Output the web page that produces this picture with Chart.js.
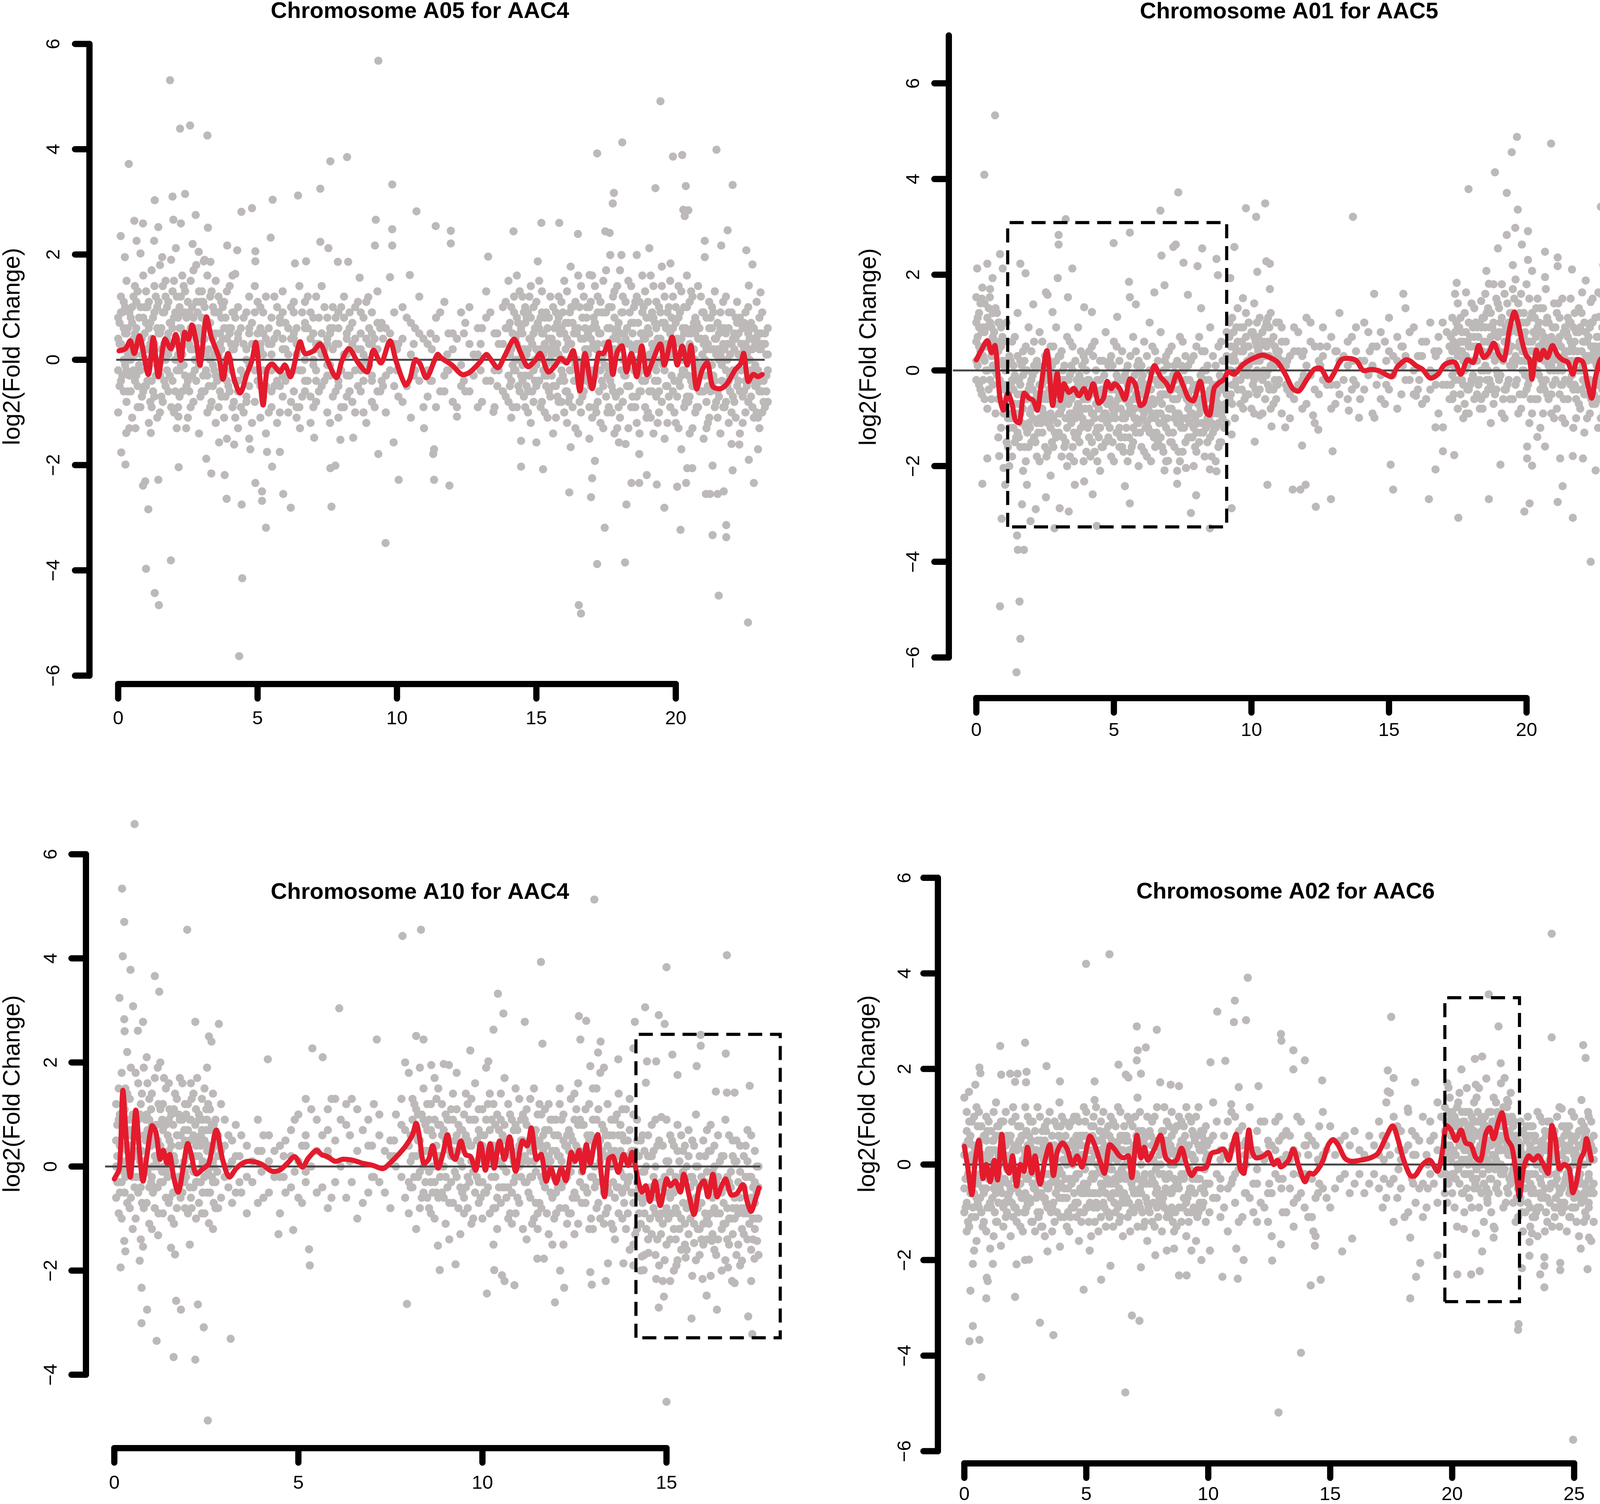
<!DOCTYPE html>
<html><head><meta charset="utf-8">
<script src="https://cdn.jsdelivr.net/npm/chart.js@4.4.1/dist/chart.umd.min.js"></script>
<style>
html,body{margin:0;padding:0;background:#fff;}
#wrap{position:relative;width:4166px;height:3850px;background:#fff;overflow:hidden;}
.pc{position:absolute;}
</style></head><body><div id="wrap">
<div class="pc" style="left:0;top:0;width:2083px;height:1925px"><canvas id="c1"></canvas></div>
<div class="pc" style="left:2083px;top:0;width:2083px;height:1925px"><canvas id="c2"></canvas></div>
<div class="pc" style="left:0;top:1925px;width:2083px;height:1925px"><canvas id="c3"></canvas></div>
<div class="pc" style="left:2083px;top:1925px;width:2083px;height:1925px"><canvas id="c4"></canvas></div>
</div>
<script>
// ---------- titles & ticks ----------
const titles = ["Chromosome A05 for AAC4","Chromosome A01 for AAC5","Chromosome A10 for AAC4","Chromosome A02 for AAC6"];
const yTitle = "log2(Fold Change)";
const p1XTicks=[0,5,10,15,20], p1YTicks=[-6,-4,-2,0,2,4,6];
const p2XTicks=[0,5,10,15,20], p2YTicks=[-6,-4,-2,0,2,4,6];
const p3XTicks=[0,5,10,15], p3YTicks=[-4,-2,0,2,4,6];
const p4XTicks=[0,5,10,15,20,25], p4YTicks=[-6,-4,-2,0,2,4,6];

// ---------- panel 1: A05 / AAC4 ----------
const p1Band=[[0.1,0.9,-0.4,0.3,1.2],[0.3,-0.8,0.5,1.5,-0.2],[0.5,0.7,-1.1,0.1,1.0],[0.7,-0.5,1.3,0.4,-0.9],[0.9,0.2,1.6,-0.6,0.8],[1.1,-1.2,0.6,1.1,-0.1],[1.3,0.9,-0.7,1.4,0.3],[1.5,-0.3,1.8,0.5,-1.0],[1.7,1.2,-0.5,0.0,1.5],[1.9,-0.9,0.7,1.9,0.3],[2.1,0.4,-1.3,1.2,-0.2],[2.3,1.6,0.1,-0.6,0.9],[2.5,-0.4,1.1,0.5,-1.1],[2.7,0.8,1.7,-0.8,0.2],[2.9,-0.1,1.3,0.6,-1.4],[3.1,1.0,-0.6,1.9,0.4],[3.3,-0.9,0.7,1.2,0.0],[3.5,0.5,-1.2,1.5,-0.3],[3.7,1.1,-0.7,0.2,0.8],[3.9,-1.5,0.4,1.3,-0.4],[4.1,0.9,-0.9,0.2,1.6],[4.3,-0.6,0.5,-1.3,1.0],[4.5,0.3,-1.0,0.8,-0.3],[4.7,1.2,-0.5,0.5,-1.5],[4.9,-0.2,0.9,-0.8,1.4],[5.1,0.6,-1.1,0.2,1.0],[5.3,-0.5,1.2,-1.4,0.4],[5.5,0.8,-0.2,-0.9,0.3],[5.7,-1.2,0.5,1.0,-0.4],[5.9,0.2,0.9,-0.7,1.3],[6.1,-0.3,0.6,-1.0,0.1],[6.3,1.1,-0.6,0.4,0.9],[6.5,-0.9,0.2,1.4,-0.2],[6.7,0.7,-0.4,0.0,1.1],[6.9,-0.7,0.9,0.4,-1.2],[7.1,0.3,-0.2,1.2,-0.8],[7.3,1.4,0.5,-0.5,0.1],[7.5,-1.0,0.8,-0.3,0.4],[7.7,0.6,-0.7,1.0,0.2],[7.9,-0.4,0.3,0.9,-1.1],[8.1,0.8,-0.9,0.1,1.2],[8.3,-0.3,0.6,-0.6,0.9],[8.5,1.0,-0.2,0.4,-1.0],[8.7,-0.6,0.9,0.2,-0.2],[8.9,0.4,-1.2,1.1,0.0],[9.1,-0.8,0.5,0.9,-0.4],[9.3,0.2,1.3,-0.6,0.7],[9.6,-0.3,0.6,-1.0],[9.9,0.9,-0.5,0.3],[10.2,-0.8,0.4,1.0],[10.5,0.1,-1.1,0.7],[10.8,1.2,-0.4,0.5],[11.1,-0.7,0.3,-0.2],[11.4,0.8,-0.9,0.4],[11.7,-0.3,1.1,-0.6],[12.0,0.5,-0.8,0.2],[12.3,-0.5,0.9,-0.1],[12.6,0.3,-0.6,1.0],[12.9,-0.9,0.6,0.1],[13.2,0.8,-0.4,1.3],[13.5,-0.2,0.5,-0.9],[13.8,1.0,-0.6,0.3],[14.0,0.6,1.5,-0.3,-0.8],[14.2,-0.2,0.9,1.2,0.3],[14.4,1.3,-0.6,0.5,0.0],[14.6,-0.9,0.7,1.0,-0.3],[14.8,0.4,-1.2,1.4,0.8],[15.0,-0.5,0.2,1.1,-0.1],[15.2,0.9,-0.8,0.5,1.3],[15.4,-0.3,0.6,-1.1,0.2],[15.6,1.0,-0.5,0.3,-1.4],[15.8,-0.8,0.8,0.1,1.2],[16.0,0.5,-1.0,1.5,-0.4],[16.2,-0.2,0.9,-0.7,0.3],[16.4,1.1,-1.3,0.6,-0.1],[16.6,-0.6,0.4,1.4,-1.0],[16.8,0.8,-0.4,1.0,0.2],[17.0,-1.1,0.6,1.6,-0.2],[17.2,0.3,-0.8,1.2,0.9],[17.4,-0.5,1.5,0.1,-1.3],[17.6,1.0,-0.2,0.6,-0.9],[17.8,-1.4,0.8,1.3,0.2],[18.0,0.5,-0.6,1.7,-1.1],[18.2,-0.3,1.1,0.4,-1.6],[18.4,1.4,-0.9,0.7,0.0],[18.6,-0.7,0.3,1.2,-1.2],[18.8,0.9,-0.4,1.6,0.5],[19.0,-1.0,0.6,1.1,-0.3],[19.2,0.2,-1.4,1.4,0.8],[19.4,-0.6,1.0,0.3,-1.0],[19.6,1.2,-0.2,0.7,-1.5],[19.8,-0.9,0.5,1.5,0.1],[20.0,0.7,-1.2,1.0,-0.4],[20.2,-0.3,1.3,0.4,-1.7],[20.4,1.0,-0.7,0.2,1.6],[20.6,-1.3,0.6,1.2,-0.5],[20.8,0.4,-0.9,1.4,-0.1],[21.0,-0.6,0.9,-1.5,0.3],[21.2,1.1,-0.3,0.6,-1.1],[21.4,-0.9,0.4,1.3,-0.4],[21.6,0.6,-1.4,0.9,0.1],[21.8,-0.2,1.2,-0.8,0.5],[22.0,0.9,-1.0,0.3,-1.6],[22.2,-0.5,0.7,1.1,-0.2],[22.4,0.3,-1.2,0.6,-0.7],[22.6,-0.8,0.5,1.0,0.0],[22.8,0.6,-0.4,-1.1,0.4],[23.0,-0.6,0.2,0.8,-1.3],[23.2,0.5,-0.9,-0.3,0.3]];
const p1Band2=[[0.0,0.4,-0.2,0.8,-1.0],[0.2,1.1,0.0,-0.6,0.6],[0.4,-0.3,0.9,0.2,-1.3],[0.6,0.5,1.4,-0.4,0.1],[0.8,-0.9,0.3,1.0,-0.2],[1.0,0.7,-0.5,1.3,0.0],[1.2,-0.4,0.4,1.7,-0.9],[1.4,1.0,-0.1,0.6,-1.1],[1.6,0.2,0.9,-0.8,1.4],[1.8,-0.6,0.5,1.1,0.1],[2.0,0.8,-1.0,0.3,1.5],[2.2,-0.2,0.6,1.0,-0.7],[2.4,0.4,1.3,-0.3,0.9],[2.6,-0.9,0.2,1.5,0.6],[2.8,1.1,0.4,-0.4,1.8],[3.0,-0.6,0.8,0.2,1.3],[3.2,0.6,-0.3,1.6,-1.0],[3.4,-0.1,1.0,0.4,-0.5],[3.6,0.9,-0.9,0.1,1.2],[3.8,-0.3,0.6,1.1,-1.1],[4.0,0.5,-0.6,1.4,0.0],[4.2,-1.1,0.3,0.8,-0.4],[4.4,0.6,-0.2,-0.9],[4.6,-0.7,0.9,0.2],[4.8,0.3,-1.2,0.7],[5.0,-0.4,0.5,1.1],[5.2,0.9,-0.7,0.1],[5.4,-1.0,0.3,0.6],[5.6,0.4,-0.5,1.2],[5.8,-0.2,0.8,-1.0],[6.0,0.7,-0.4,0.2],[6.2,-0.8,0.4,1.0],[6.4,0.1,-1.1,0.6],[6.6,0.9,-0.2,-0.7],[6.8,-0.4,0.6,1.2],[7.0,0.5,-0.9,0.0],[7.2,-0.6,0.8,0.3],[7.4,0.2,-0.4,1.0],[7.6,-1.2,0.5,-0.1],[7.8,0.8,-0.6,0.3],[8.0,-0.2,1.0,-0.9],[8.2,0.5,-0.3,0.1],[8.4,-0.8,0.7,0.3],[8.6,0.2,-0.5,1.1],[8.8,-0.4,0.8,-1.0],[9.0,0.6,-0.1,0.3],[9.2,-0.9,0.4],[9.45,0.7,-0.4],[9.75,-0.2,0.5],[10.05,0.3,-0.7],[10.35,-0.5,0.8],[10.65,0.6,-0.2],[10.95,-0.9,0.4],[11.25,0.2,-0.4],[11.55,0.9,-0.6],[11.85,-0.2,0.5],[12.15,0.4,-0.9],[12.45,-0.6,0.7],[12.75,0.1,-0.3],[13.05,0.6,-0.8],[13.35,-0.4,0.9],[13.65,0.3,-0.2],[13.9,-0.7,0.6,1.1],[14.1,0.2,-0.4,1.0,-1.1],[14.3,0.8,-0.9,0.3,1.6],[14.5,-0.4,0.5,1.2,-0.1],[14.7,0.9,-0.6,0.2,-1.0],[14.9,-0.2,1.0,0.5,-0.8],[15.1,0.6,-0.4,1.5,0.1],[15.3,-1.0,0.3,0.8,-0.3],[15.5,0.4,-0.7,1.2,0.0],[15.7,-0.5,0.9,0.2,-1.1],[15.9,1.1,-0.2,0.6,-0.8],[16.1,-0.6,0.4,1.3,-1.2],[16.3,0.7,-0.9,0.1,1.0],[16.5,-0.2,0.6,-1.4,1.6],[16.7,0.4,-0.6,1.2,-0.3],[16.9,-0.9,1.0,0.2,-1.5],[17.1,0.7,-0.3,1.4,-0.9],[17.3,-0.2,0.5,-1.2,1.1],[17.5,0.9,-0.7,0.3,1.7],[17.7,-0.5,0.2,1.0,-1.0],[17.9,0.6,-1.3,0.4,1.4],[18.1,-0.8,0.9,0.0,1.2],[18.3,0.3,-0.5,1.5,-1.3],[18.5,-0.2,0.7,-0.9,1.0],[18.7,1.1,-0.6,0.3,-1.4],[18.9,-0.4,0.4,1.3,-0.9],[19.1,0.8,-1.1,0.1,1.6],[19.3,-0.7,0.6,1.1,-0.2],[19.5,0.3,-0.8,1.4,0.7],[19.7,-1.2,0.1,0.9,-0.5],[19.9,0.6,1.2,-0.6,0.2],[20.1,-0.4,0.8,-1.3,1.4],[20.3,1.0,-0.2,0.5,-0.9],[20.5,-0.7,0.3,1.1,-1.4],[20.7,0.5,-1.0,0.8,0.0],[20.9,-0.3,1.2,-0.6,0.4],[21.1,0.8,-0.8,0.2,-1.3],[21.3,-0.5,0.6,1.0,-0.1],[21.5,0.2,-1.1,0.7,-0.6],[21.7,-0.9,0.3,1.1,0.0],[21.9,0.6,-0.4,-1.2,0.9],[22.1,-0.3,0.5,-0.8,0.2],[22.3,0.8,-0.6,0.1,-1.4],[22.5,-0.4,0.9,-1.0,0.3],[22.7,0.2,-0.7,0.7,-0.2],[22.9,-1.0,0.4,-0.5,1.1],[23.1,0.3,-0.6,0.9,-1.0],[23.3,-0.2,0.6,-0.8,0.1]];
const p1Band3=[[0.05,0.3,-0.5,0.7],[0.25,-0.1,0.5,1.0],[0.45,0.8,0.0,-0.6],[0.65,-0.3,0.6,1.1],[0.85,0.4,-0.7,0.1],[1.05,1.0,0.2,-0.4],[1.25,-0.6,0.1,0.8],[1.45,0.5,1.1,-0.2],[1.65,-0.4,0.3,0.9],[1.85,0.7,-0.3,0.2],[2.05,0.0,0.9,-0.6],[2.25,0.6,-0.1,1.2],[2.45,-0.5,0.3,0.8],[2.65,0.2,1.0,-0.3],[2.85,0.9,0.0,0.5],[3.05,-0.3,0.4,1.1],[3.25,0.7,-0.5,0.2],[3.45,0.1,0.9,-0.2],[3.65,-0.6,0.5,0.3],[3.85,0.8,0.0,-0.7],[4.05,-0.2,0.6,0.3],[4.3,0.4,-0.4],[4.7,-0.1,0.6],[5.1,0.3,-0.5],[5.5,-0.6,0.1],[5.9,0.4,-0.3],[6.3,-0.2,0.5],[6.7,0.6,-0.6],[7.1,-0.4,0.2],[7.5,0.3,-0.1],[7.9,-0.5,0.6],[8.3,0.2,-0.6],[8.7,0.5,-0.1],[9.1,-0.3,0.3],[9.5,0.4,-0.5],[10.0,-0.2,0.2],[10.6,0.3,-0.3],[11.2,-0.4,0.5],[11.8,0.1,-0.2],[12.4,0.5,-0.4],[13.0,-0.2,0.3],[13.6,0.5,-0.5],[14.05,0.1,-0.5,0.7],[14.25,-0.2,0.4,0.0],[14.45,0.6,-0.3,0.2],[14.65,-0.5,0.1,0.8],[14.85,0.3,-0.1,-0.6],[15.05,0.7,0.0,-0.4],[15.25,-0.2,0.5,0.1],[15.45,0.4,-0.6,0.8],[15.65,-0.1,0.6,0.2],[15.85,0.5,-0.4,0.0],[16.05,-0.6,0.2,0.7],[16.25,0.3,-0.2,1.0],[16.45,-0.4,0.5,0.0],[16.65,0.8,-0.1,-0.7],[16.85,0.1,0.5,-0.4],[17.05,-0.3,0.8,0.3],[17.25,0.5,-0.6,0.0],[17.45,-0.1,0.3,0.9],[17.65,0.6,-0.4,0.2],[17.85,-0.7,0.1,0.5],[18.05,0.3,-0.2,0.9],[18.25,-0.5,0.6,0.0],[18.45,0.2,-0.7,0.5],[18.65,0.7,0.0,-0.3],[18.85,-0.2,0.4,1.0],[19.05,0.5,-0.6,0.1],[19.25,-0.1,0.7,-0.4],[19.45,0.4,0.0,0.9],[19.65,-0.5,0.3,0.6],[19.85,0.2,-0.3,0.8],[20.05,-0.7,0.4,0.1],[20.25,0.6,-0.2,0.0],[20.45,-0.3,0.5,-0.8],[20.65,0.2,-0.5,0.7],[20.85,-0.1,0.6,-0.6],[21.05,0.4,-0.3,0.0],[21.25,-0.6,0.2,0.8],[21.45,0.1,-0.8,0.4],[21.65,-0.4,0.6,-0.1],[21.85,0.3,-0.5,0.0],[22.05,-0.2,0.4,-0.7],[22.25,0.5,-0.4,0.1],[22.45,-0.6,0.2,0.7],[22.65,0.0,-0.3,0.4],[22.85,-0.5,0.3,-0.1],[23.05,0.2,-0.4,0.5],[23.25,-0.3,0.1,-0.6]];
const p1Band4=[[0.15,0.2,-0.3,0.9],[0.35,0.6,-0.6,0.1],[0.55,-0.2,0.4,1.2],[0.75,0.8,-0.1,0.3],[0.95,-0.5,0.5,1.0],[1.15,0.3,-0.8,0.7],[1.35,1.2,0.0,-0.3],[1.55,-0.7,0.6,0.2],[1.75,0.4,-0.2,1.0],[1.95,-0.4,1.3,0.6],[2.15,0.8,0.1,-0.9],[2.35,-0.1,0.5,1.4],[2.55,0.9,-0.6,0.3],[2.75,0.0,0.6,-0.2],[2.95,0.4,1.1,-0.7],[3.15,-0.2,0.7,0.1],[3.35,0.5,-0.8,1.3],[3.55,0.9,0.2,-0.4],[3.75,-0.1,0.4,1.0],[3.95,0.6,-0.5,0.0],[4.15,-0.8,0.2,0.9],[4.6,0.0,-0.8],[5.2,0.5,-0.2],[5.8,-0.5,0.7],[6.4,0.3,-0.9],[7.0,-0.1,0.8],[7.6,0.6,-0.3],[8.2,-0.7,0.4],[8.8,0.1,-0.4],[9.4,-0.6,0.6],[14.15,0.5,-0.1,-0.9],[14.35,0.0,0.7,-0.5],[14.55,-0.7,0.2,0.9],[14.75,0.4,-0.3,1.2],[14.95,-0.4,0.6,0.0],[15.15,0.2,-0.9,0.8],[15.35,0.9,-0.1,-0.5],[15.55,-0.3,0.4,0.1],[15.75,0.7,-0.7,0.3],[15.95,0.0,0.9,-0.3],[16.15,-0.8,0.3,0.7],[16.35,0.5,-0.4,0.0],[16.55,-0.1,1.0,-0.8],[16.75,0.6,-0.2,0.2],[16.95,-0.5,0.4,1.1],[17.15,0.2,-1.0,0.6],[17.35,0.9,0.0,-0.4],[17.55,-0.3,0.6,-1.0],[17.75,0.4,-0.6,1.2],[17.95,-0.9,0.2,0.7],[18.15,0.5,-0.3,0.0],[18.35,-0.5,0.9,0.3],[18.55,0.2,-0.9,1.1],[18.75,-0.2,0.5,-0.6],[18.95,0.8,0.0,-1.1],[19.15,-0.6,0.3,0.9],[19.35,0.4,-0.4,-1.2],[19.55,-0.1,0.7,0.2],[19.75,0.6,-0.7,1.0],[19.95,-0.4,0.1,-1.0],[20.15,0.3,0.9,-0.5],[20.35,-0.8,0.2,0.6],[20.55,0.5,-0.4,1.3],[20.75,-0.2,0.7,-0.9],[20.95,0.9,-0.6,0.1],[21.15,-0.5,0.3,-1.2],[21.35,0.2,-0.3,0.9],[21.55,-0.7,0.5,0.0],[21.75,0.6,-0.9,0.2],[21.95,-0.3,0.1,-0.6],[22.15,0.4,-1.1,0.8],[22.35,-0.6,0.3,-0.2],[22.55,0.1,-0.5,0.6],[22.75,-0.9,0.2,-0.4],[22.95,0.5,-0.2,-1.1],[23.15,-0.4,0.3,-0.8]];
const p1Out=[[1.86,5.31],[9.33,5.68],[19.45,4.91],[2.22,4.39],[2.58,4.45],[3.2,4.26],[0.38,3.72],[7.61,3.77],[8.21,3.85],[9.83,3.33],[17.18,3.92],[18.08,4.13],[19.9,3.86],[20.23,3.89],[21.46,3.99],[22.04,3.32],[20.36,3.3],[19.27,3.26],[17.78,3.17],[17.74,2.97],[7.25,3.25],[1.95,3.1],[2.4,3.15],[1.31,3.03],[6.45,3.12],[5.54,3.04],[4.8,2.88],[4.42,2.81],[2.78,2.75],[3.22,2.51],[10.7,2.82],[11.39,2.54],[11.93,2.45],[11.93,2.21],[9.24,2.66],[9.21,2.17],[9.83,2.48],[9.83,2.17],[14.18,2.44],[15.18,2.6],[15.82,2.6],[16.49,2.39],[17.63,2.41],[20.27,2.85],[20.45,2.84],[20.32,2.73],[21.04,2.26],[21.86,2.46],[21.63,2.17],[22.53,2.08],[22.75,1.81],[23.04,1.28],[22.62,1.41],[0.09,2.35],[0.24,1.95],[0.58,2.64],[0.89,2.59],[0.66,2.26],[0.8,2.02],[1.29,2.26],[1.44,2.52],[1.58,1.95],[1.98,2.66],[2.25,2.59],[2.07,2.12],[2.67,2.2],[2.89,2.05],[3.07,1.87],[3.31,1.86],[3.91,2.17],[4.2,1.63],[4.27,2.08],[4.92,2.06],[4.92,1.87],[5.47,2.32],[6.34,1.83],[6.74,1.87],[7.88,1.86],[8.25,1.86],[7.54,2.12],[7.25,2.24],[8.66,1.56],[8.97,1.19],[9.75,1.57],[10.46,1.61],[13.27,1.96],[15.05,1.87],[16.23,1.77],[16.91,1.61],[17.47,2.44],[17.65,1.99],[18.05,1.99],[19.05,2.12],[18.6,1.99],[19.5,1.77],[19.81,1.83],[21.04,1.95],[4.34,-5.63],[4.45,-4.15],[1.89,-3.81],[1.0,-3.97],[1.31,-4.43],[1.46,-4.66],[9.59,-3.48],[17.18,-3.88],[18.18,-3.85],[16.52,-4.66],[16.6,-4.82],[21.54,-4.48],[22.59,-4.99],[17.45,-3.19],[20.17,-3.23],[21.32,-3.33],[21.81,-3.14],[21.81,-3.37],[5.3,-3.19],[6.19,-2.81],[7.65,-2.79],[1.08,-2.84],[0.89,-2.39],[0.97,-2.31],[1.44,-2.28],[0.26,-1.99],[0.11,-1.76],[2.17,-2.04],[3.89,-2.64],[3.82,-2.19],[4.43,-2.75],[4.92,-2.34],[5.16,-2.68],[5.16,-2.5],[5.92,-2.55],[5.52,-2.03],[7.61,-2.06],[7.79,-2.01],[10.06,-2.28],[11.33,-2.28],[11.88,-2.39],[11.3,-1.79],[14.45,-2.03],[15.24,-2.08],[16.18,-2.52],[16.96,-2.61],[17.0,-2.25],[17.1,-1.92],[18.23,-2.75],[18.41,-2.34],[18.69,-2.34],[18.96,-2.19],[19.32,-2.37],[19.59,-2.81],[20.05,-2.41],[20.37,-2.34],[20.59,-2.06],[21.08,-2.55],[21.23,-2.55],[21.5,-2.55],[21.72,-2.5],[22.04,-2.1],[22.95,-1.7],[22.8,-2.34],[22.62,-1.9],[22.28,-1.61],[21.32,-2.01],[20.41,-2.06],[18.69,-1.79],[17.96,-1.57],[16.23,-1.66],[15.0,-1.57],[14.45,-1.54],[13.46,-0.99],[12.15,-1.08],[10.97,-1.3],[11.33,-1.7],[9.88,-1.57],[9.33,-1.79],[8.43,-1.48],[7.97,-1.52],[7.03,-1.48],[6.52,-1.3],[5.8,-1.75],[5.34,-1.75],[4.74,-1.7],[4.16,-1.61],[3.62,-1.57],[3.34,-2.16],[3.16,-1.88],[2.44,-1.3],[2.16,-1.08],[1.17,-1.39],[0.62,-1.3],[0.29,-1.39]];
const p1Red=[[0.03,0.17],[0.26,0.21],[0.44,0.36],[0.58,0.12],[0.77,0.45],[1.08,-0.28],[1.26,0.42],[1.44,-0.32],[1.67,0.39],[1.89,0.21],[2.07,0.48],[2.25,-0.01],[2.38,0.52],[2.53,0.39],[2.65,0.66],[2.8,0.34],[2.94,-0.1],[3.16,0.81],[3.34,0.43],[3.62,0.03],[3.76,-0.37],[3.94,0.12],[4.16,-0.37],[4.38,-0.63],[4.61,-0.28],[4.8,-0.01],[4.94,0.33],[5.07,-0.28],[5.2,-0.86],[5.34,-0.19],[5.52,-0.08],[5.8,-0.23],[5.98,-0.1],[6.19,-0.32],[6.52,0.34],[6.7,0.12],[7.01,0.17],[7.25,0.3],[7.52,-0.03],[7.83,-0.34],[8.03,-0.01],[8.28,0.21],[8.61,-0.06],[8.94,-0.23],[9.15,0.18],[9.43,-0.06],[9.75,0.36],[9.97,-0.03],[10.3,-0.48],[10.46,-0.37],[10.65,0.0],[10.82,-0.07],[11.06,-0.34],[11.45,0.1],[11.6,0.03],[11.97,-0.1],[12.33,-0.28],[12.6,-0.24],[12.97,-0.05],[13.2,0.1],[13.33,0.03],[13.62,-0.15],[13.87,0.08],[14.2,0.39],[14.42,0.15],[14.69,-0.13],[14.96,-0.01],[15.14,0.12],[15.42,-0.23],[15.69,-0.1],[15.87,0.03],[16.09,-0.06],[16.33,0.17],[16.56,-0.59],[16.74,0.12],[17.0,-0.55],[17.23,0.12],[17.41,0.12],[17.6,0.34],[17.74,-0.28],[17.9,0.15],[18.08,0.26],[18.23,-0.23],[18.41,0.12],[18.6,-0.32],[18.78,0.26],[18.96,-0.28],[19.14,-0.06],[19.45,0.3],[19.59,-0.1],[19.87,0.43],[20.05,-0.1],[20.23,0.26],[20.41,-0.1],[20.55,0.27],[20.74,-0.55],[20.95,-0.19],[21.14,-0.06],[21.32,-0.5],[21.59,-0.55],[21.83,-0.46],[22.13,-0.19],[22.32,-0.08],[22.44,0.12],[22.59,-0.41],[22.77,-0.28],[22.95,-0.32],[23.1,-0.28]];
const p1Zero=[-0.07,23.19];

// ---------- panel 2: A01 / AAC5 ----------
const p2Band=[[0.1,0.5,-0.3,1.2,0.9],[0.3,1.4,0.2,-0.6,0.8],[0.5,-0.2,1.0,0.6,1.7],[0.7,0.3,-0.9,1.3,0.0],[0.9,0.9,-0.4,-1.2,0.5],[1.1,-1.5,0.2,-0.6,1.0],[1.3,-0.9,0.6,-1.8,-0.2],[1.5,0.3,-1.3,-0.5,1.2],[1.7,-2.1,-0.8,0.4,-0.1],[1.9,-1.1,0.9,-0.4,-1.6],[2.1,0.1,-1.4,-0.7,0.6],[2.3,-1.9,-0.3,0.8,-1.0],[2.5,-0.6,-1.6,0.3,-0.1],[2.7,-1.2,0.5,-0.9,-2.2],[2.9,0.2,-0.5,-1.4,0.9],[3.1,-1.8,-0.8,0.4,-0.2],[3.3,-0.4,-1.2,0.7,-2.0],[3.5,0.0,-0.9,-1.6,0.5],[3.7,-1.3,-0.3,0.9,-0.7],[3.9,-0.6,-1.9,0.3,-1.1],[4.1,0.4,-1.4,-0.2,-0.8],[4.3,-1.0,0.6,-1.7,-0.4],[4.5,-0.2,-1.2,0.2,-2.1],[4.7,-1.5,-0.6,0.8,-0.9],[4.9,0.3,-1.0,-0.4,-1.8],[5.1,-0.8,0.5,-1.3,-0.1],[5.3,-1.6,-0.5,0.4,-1.0],[5.5,0.1,-0.9,-1.9,-0.3],[5.7,-1.2,0.7,-0.6,-1.5],[5.9,-0.3,-1.1,0.2,-2.0],[6.1,-1.7,-0.4,0.6,-0.9],[6.3,0.0,-1.3,-0.7,1.0],[6.5,-1.0,0.4,-1.6,-0.2],[6.7,-0.5,-1.4,0.8,-0.9],[6.9,-1.9,-0.2,0.3,-1.2],[7.1,0.5,-0.8,-1.5,-0.4],[7.3,-1.1,0.2,-0.6,-2.1],[7.5,-0.3,-1.7,0.6,-1.0],[7.7,-1.4,-0.5,0.1,-0.8],[7.9,0.3,-1.2,-2.0,-0.3],[8.1,-0.9,0.7,-1.5,-0.6],[8.3,-1.8,-0.2,0.4,-1.1],[8.5,-0.4,-1.4,0.9,-0.8],[8.7,-1.2,0.1,-0.6,-1.9],[8.9,0.6,-0.9,-1.5,-0.2],[9.1,-0.5,0.3,-1.1,0.8],[9.3,0.2,-0.7,1.1,-0.3],[9.5,0.6,-0.4,0.0,1.3],[9.7,-0.8,0.4,0.9,-0.1],[9.9,0.1,1.0,-0.5,0.5],[10.1,0.7,-0.2,1.4,-0.9],[10.3,-0.4,0.5,0.2,1.1],[10.5,0.9,-0.6,0.3,-0.1],[10.7,0.1,1.2,-0.8,0.6],[10.9,-0.3,0.4,1.0,-0.6],[11.1,0.6,-0.9,0.2,0.9],[11.4,-0.5,0.3,-1.0],[11.7,0.8,-0.3,0.4],[12.0,-0.7,0.1,1.1],[12.3,0.5,-0.4,-1.1],[12.6,-0.2,0.9,0.3],[12.9,0.7,-0.8,-0.3],[13.2,0.2,1.2,-0.5],[13.5,-0.6,0.6,0.1],[13.8,0.9,-0.3,0.4],[14.1,-0.4,0.2,1.0],[14.4,0.5,-0.9,0.1],[14.7,-0.1,0.8,-0.6],[15.0,0.4,-0.4,1.1],[15.3,-0.8,0.7,0.2],[15.6,0.3,-0.2,1.3],[15.9,-0.5,0.9,0.0],[16.2,0.6,-0.7,0.3],[16.5,0.0,1.0,-0.4],[16.8,-0.9,0.4,0.7],[17.1,0.8,-0.3,0.1],[17.3,-0.6,1.1,0.4,-0.1],[17.5,0.3,-0.8,0.9,1.4],[17.7,-0.3,0.6,-1.0,0.2],[17.9,1.0,-0.4,0.5,-0.9],[18.1,0.2,1.3,-0.6,0.7],[18.3,-0.8,0.4,1.0,-0.2],[18.5,0.9,-0.5,1.6,0.1],[18.7,-0.3,0.7,-1.1,1.2],[18.9,0.5,1.5,-0.4,0.0],[19.1,-0.9,1.1,0.3,1.8],[19.3,0.6,-0.3,1.4,0.9],[19.5,-0.6,1.7,0.2,2.2],[19.7,1.0,-0.9,0.5,1.4],[19.9,0.0,1.2,-0.5,0.7],[20.1,-1.1,0.6,1.5,-0.2],[20.3,0.8,-0.6,0.2,1.1],[20.5,-0.4,1.3,0.5,-1.2],[20.7,0.4,-0.2,1.0,1.7],[20.9,-0.9,0.7,0.1,-0.5],[21.1,1.2,0.3,-0.8,0.6],[21.3,-0.3,1.5,0.0,-1.0],[21.5,0.7,-0.6,1.1,0.2],[21.7,-1.2,0.4,0.9,-0.4],[21.9,0.2,1.3,-0.7,0.8],[22.1,-0.5,0.6,-1.3,1.0],[22.3,0.9,-0.2,0.3,-0.9],[22.5,-0.7,1.1,0.5,-0.3],[22.7,0.4,-1.0,1.6,0.1],[22.9,-0.2,0.8,-0.6,1.2],[23.1,0.6,-0.8,0.2,-1.4],[23.3,-0.4,0.9,0.0,-1.0]];
const p2Band2=[[0.0,0.2,1.0,-0.2,0.6],[0.2,0.8,-0.5,1.5,0.3],[0.4,0.0,1.1,0.5,-0.8],[0.6,1.2,-0.3,0.7,0.1],[0.8,-0.6,0.4,1.0,-1.4],[1.0,0.1,-0.9,0.6,-0.3],[1.2,-1.2,-0.4,0.3,-2.0],[1.4,-0.7,0.7,-1.5,-0.1],[1.6,-1.6,-0.3,0.2,-0.9],[1.8,0.5,-1.2,-0.5,-1.9],[2.0,-0.8,-0.2,-1.5,0.4],[2.2,-1.1,0.2,-0.5,-1.8],[2.4,-0.3,-1.3,0.6,-0.8],[2.6,-1.7,-0.6,0.1,-1.1],[2.8,-0.2,-1.0,0.5,-1.6],[3.0,-1.3,-0.4,0.3,-0.9],[3.2,0.1,-1.6,-0.7,-0.2],[3.4,-0.9,-0.1,-1.8,0.6],[3.6,-1.4,-0.5,0.2,-1.0],[3.8,-0.2,-1.2,-0.8,0.4],[4.0,-1.7,-0.6,0.0,-1.1],[4.2,-0.4,-1.5,0.5,-0.9],[4.4,-1.2,-0.2,-0.7,-1.9],[4.6,0.2,-1.0,-1.6,-0.4],[4.8,-0.7,-1.4,0.1,-1.0],[5.0,-1.9,-0.3,-0.9,0.6],[5.2,-0.5,-1.2,0.2,-1.6],[5.4,-1.0,-0.1,-1.4,-0.6],[5.6,0.3,-0.8,-1.7,-0.3],[5.8,-1.3,-0.5,0.4,-1.0],[6.0,-0.2,-1.6,-0.8,0.1],[6.2,-1.1,0.3,-0.4,-1.8],[6.4,-0.6,-1.3,0.5,-0.9],[6.6,-1.5,-0.3,-0.9,0.2],[6.8,0.0,-1.1,-1.7,-0.5],[7.0,-0.8,0.4,-1.3,-0.2],[7.2,-1.6,-0.6,0.1,-1.0],[7.4,-0.4,-1.1,0.7,-1.9],[7.6,-1.0,-0.2,-1.5,0.3],[7.8,-0.6,-1.4,0.2,-0.9],[8.0,-1.3,-0.4,0.5,-1.7],[8.2,-0.2,-1.1,-0.7,0.4],[8.4,-1.5,-0.5,0.1,-1.0],[8.6,0.3,-0.9,-1.3,-0.3],[8.8,-0.7,-1.6,0.5,-1.1],[9.0,-1.2,-0.4,0.2,-0.8],[9.2,0.7,-0.6,0.0,1.0],[9.4,-0.3,0.5,-1.0,0.2],[9.6,0.9,-0.2,0.4,-0.7],[9.8,-0.5,0.7,0.1,1.2],[10.0,0.3,-0.8,0.8,-0.1],[10.2,1.0,0.0,-0.5,0.5],[10.4,-0.2,0.8,-0.9,0.3],[10.6,0.6,-0.3,1.1,0.0],[10.8,-0.7,0.2,0.7,-0.4],[11.0,0.4,1.0,-0.2],[11.25,-0.3,0.6,0.1],[11.55,0.4,-0.6,0.9],[11.85,-0.2,0.3,-0.8],[12.15,0.6,-0.1,1.0],[12.45,-0.5,0.2],[12.75,0.5,-0.3],[13.05,-0.7,0.4],[13.35,0.3,-0.2],[13.65,-0.4,0.7],[13.95,0.2,-0.6],[14.25,0.8,-0.1],[14.55,-0.3,0.5],[14.85,0.6,-0.7],[15.15,-0.1,0.3],[15.45,0.5,-0.5],[15.75,-0.2,0.8],[16.05,0.3,-0.4],[16.35,-0.6,0.6],[16.65,0.4,-0.1],[16.95,-0.3,1.0],[17.2,0.5,-0.6,0.2],[17.4,-0.2,0.8,1.6],[17.6,0.6,-0.5,1.1],[17.8,-0.9,0.3,0.8],[18.0,0.5,-0.2,1.4],[18.2,-0.5,0.9,0.2],[18.4,1.1,-0.8,0.4],[18.6,0.0,0.6,-0.4,1.3],[18.8,-0.7,1.0,0.3,1.8],[19.0,0.8,-0.2,1.3,0.4],[19.2,-0.4,0.6,1.6,-1.0],[19.4,1.2,0.1,-0.6,0.8],[19.6,0.3,1.9,-0.3,1.1],[19.8,-0.8,0.6,1.6,0.2],[20.0,1.0,-0.4,0.4,1.8],[20.2,0.2,-0.9,1.2,0.6],[20.4,-0.6,0.9,0.0,1.5],[20.6,1.3,-0.3,0.6,-0.9],[20.8,0.1,1.0,-0.6,0.5],[21.0,-1.0,0.4,1.4,0.0],[21.2,0.7,-0.5,0.2,1.1],[21.4,-0.2,0.9,-1.1,0.4],[21.6,1.0,-0.3,0.6,1.5],[21.8,-0.6,0.2,-1.0,0.8],[22.0,0.4,1.2,-0.4,0.0],[22.2,-1.0,0.6,0.2,-0.5],[22.4,0.5,-0.7,1.0,1.5],[22.6,-0.3,0.3,-1.2,0.7],[22.8,0.9,-0.5,0.1,-0.9],[23.0,-0.7,0.5,1.0,-0.2],[23.2,0.2,-1.1,0.6,-0.4],[23.4,-0.6,0.4,1.1,-1.2]];
const p2Band3=[[0.05,0.7,0.1,1.1],[0.25,0.3,0.9,-0.2],[0.45,0.6,-0.4,1.3],[0.65,0.0,0.8,0.4],[0.85,-0.2,0.5,1.0],[1.05,-0.8,0.0,-0.4],[1.25,-0.3,-1.0,0.2],[1.45,-0.9,-0.2,-1.4],[1.65,-0.5,0.1,-1.1],[1.85,-1.3,-0.6,0.0],[2.05,-0.4,-1.0,-0.1],[2.25,-0.8,0.1,-1.3],[2.45,-0.2,-0.9,-0.5],[2.65,-1.1,-0.4,0.2],[2.85,-0.7,-1.3,-0.1],[3.05,-0.3,-0.9,0.3],[3.25,-1.0,-0.5,-1.5],[3.45,-0.6,0.1,-1.1],[3.65,-0.2,-0.8,-1.4],[3.85,-1.0,-0.4,0.1],[4.05,-0.6,-1.2,-0.2],[4.25,-0.9,-0.3,0.3],[4.45,-0.5,-1.4,-0.8],[4.65,-0.1,-0.9,-0.4],[4.85,-1.2,-0.6,0.2],[5.05,-0.4,-1.0,-0.7],[5.25,-0.8,-0.2,-1.4],[5.45,-0.5,-1.2,0.0],[5.65,-0.9,-0.3,-1.6],[5.85,-0.6,0.1,-1.1],[6.05,-1.0,-0.5,-0.1],[6.25,-0.4,-1.2,-0.8],[6.45,-0.7,0.0,-1.4],[6.65,-1.1,-0.2,-0.6],[6.85,-0.5,-1.0,0.2],[7.05,-0.8,-0.3,-1.5],[7.25,-0.2,-0.9,-0.6],[7.45,-1.2,-0.5,0.1],[7.65,-0.6,-1.0,-0.2],[7.85,-0.9,-0.4,-1.4],[8.05,-0.3,-1.1,-0.7],[8.25,-0.7,0.0,-1.3],[8.45,-1.0,-0.5,-0.2],[8.65,-0.4,-1.2,-0.8],[8.85,-0.8,-0.1,-1.5],[9.05,-0.3,-0.7,0.2],[9.25,0.0,0.5,-0.5],[9.45,0.4,-0.2,0.9],[9.65,0.1,0.6,-0.4],[9.85,0.5,-0.1,0.2],[10.05,0.2,0.8,-0.3],[10.25,-0.1,0.4,0.7],[10.45,0.6,0.0,0.3],[10.65,0.3,-0.4,0.9],[10.85,0.5,0.1,-0.2],[11.3,0.2,-0.4],[11.9,0.4,-0.1],[12.5,0.1,0.5],[13.1,-0.3,0.4],[13.7,0.2,-0.2],[14.3,0.4,0.0],[14.9,-0.3,0.2],[15.5,0.1,0.5],[16.1,-0.2,0.3],[16.7,0.3,-0.3],[17.25,0.2,0.7,-0.3],[17.45,0.5,0.0,1.0],[17.65,-0.2,0.4,0.8],[17.85,0.6,0.1,-0.4],[18.05,0.2,0.9,-0.1],[18.25,0.7,-0.3,0.4],[18.45,0.0,0.6,1.1],[18.65,0.4,-0.2,0.9],[18.85,0.8,0.2,-0.5],[19.05,0.3,1.0,-0.1],[19.25,0.9,0.4,-0.4],[19.45,0.5,1.2,0.1],[19.65,0.8,0.2,-0.2],[19.85,0.4,1.0,0.0],[20.05,0.6,-0.3,0.2],[20.25,0.1,0.8,0.4],[20.45,0.5,-0.1,1.0],[20.65,0.2,0.7,-0.4],[20.85,0.6,0.0,0.3],[21.05,0.3,0.9,-0.2],[21.25,0.5,-0.3,0.1],[21.45,0.2,0.8,0.4],[21.65,-0.1,0.5,0.2],[21.85,0.4,-0.4,0.0],[22.05,0.1,0.6,-0.2],[22.25,-0.3,0.3,0.7],[22.45,0.2,-0.5,0.4],[22.65,0.5,-0.1,-0.6],[22.85,0.0,0.4,-0.3],[23.05,0.3,-0.5,0.1],[23.25,-0.2,0.5,-0.7],[23.45,0.2,-0.3,0.4]];
const p2Band4=[[0.15,0.4,1.4,-0.4],[0.35,0.9,0.0,0.5],[0.55,-0.6,0.3,0.9],[0.75,0.6,-0.1,1.2],[0.95,0.2,-0.7,0.7],[1.15,-1.0,-0.5,-1.6],[1.35,-0.4,-1.2,0.1],[1.55,-1.4,-0.7,-0.2],[1.75,-0.6,-1.6,0.2],[1.95,-0.9,-0.3,-1.2],[2.15,-1.5,-0.6,0.0],[2.35,-0.3,-1.1,-0.6],[2.55,-1.0,-0.2,-1.8],[2.75,-0.5,-1.5,0.1],[2.95,-1.1,-0.7,-0.3],[3.15,-0.6,-1.4,0.0],[3.35,-1.0,-0.2,-0.7],[3.55,-0.4,-1.3,-1.9],[3.75,-0.9,-0.1,-1.5],[3.95,-0.3,-0.8,0.2],[4.15,-1.1,-0.5,-1.8],[4.35,-0.7,-1.3,0.0],[4.55,-1.0,-0.4,-1.6],[4.75,-0.3,-1.1,-0.7],[4.95,-0.8,-1.5,0.1],[5.15,-1.3,-0.6,-0.2],[5.35,-0.2,-0.9,-1.7],[5.55,-0.7,-1.4,-0.4],[5.75,-1.0,-0.1,-0.8],[5.95,-0.5,-1.3,0.0],[6.15,-1.2,-0.8,-0.3],[6.35,-0.4,-1.0,-1.9],[6.55,-0.9,-0.2,-1.3],[6.75,-0.3,-0.7,-1.6],[6.95,-1.0,-0.5,0.1],[7.15,-0.6,-1.3,-0.1],[7.35,-0.9,-0.4,-1.7],[7.55,-0.5,-1.2,0.0],[7.75,-1.1,-0.7,-0.2],[7.95,-0.4,-1.0,-1.6],[8.15,-0.8,-0.1,-1.3],[8.35,-1.2,-0.6,0.0],[8.55,-0.6,-1.1,-1.8],[8.75,-0.3,-0.9,-0.5],[8.95,-1.0,-0.4,0.2],[9.35,0.3,-0.3,0.8],[9.75,0.5,0.0,-0.6],[10.15,0.2,0.6,-0.4],[10.55,-0.1,0.5,1.0],[10.95,0.3,-0.3],[17.35,0.1,0.6,-0.5],[17.55,0.4,-0.2,0.9],[17.75,0.0,1.2,-0.7],[17.95,0.7,0.2,-0.3],[18.15,-0.2,0.5,1.0],[18.35,0.9,0.0,-0.6],[18.55,0.3,1.2,-0.2],[18.75,-0.4,0.5,0.9],[18.95,0.7,-0.1,1.4],[19.15,0.2,0.8,-0.6],[19.35,1.0,0.4,-0.2],[19.55,0.1,0.9,1.5],[19.75,0.6,-0.5,1.2],[19.95,0.2,0.8,-0.1],[20.15,1.1,0.4,-0.6],[20.35,0.0,0.7,1.3],[20.55,0.8,-0.2,0.3],[20.75,-0.5,0.5,1.1],[20.95,0.9,0.2,-0.3],[21.15,0.0,0.6,1.4],[21.35,0.8,-0.6,0.3],[21.55,0.4,1.0,-0.2],[21.75,-0.3,0.6,1.2],[21.95,0.9,0.0,-0.8],[22.15,0.3,-0.3,0.8],[22.35,-0.6,0.5,1.0],[22.55,0.7,-0.2,0.1],[22.75,-0.4,0.3,0.9],[22.95,0.5,-0.9,0.0],[23.15,-0.1,0.7,-0.5],[23.35,0.4,-0.6,0.8]];
const p2Out=[[0.68,5.33],[0.29,4.09],[0.86,-4.93],[1.57,-4.83],[1.6,-5.61],[1.46,-6.31],[1.51,-3.75],[1.73,-3.75],[1.48,-3.45],[0.92,-3.1],[7.34,3.72],[6.69,3.34],[3.25,3.16],[2.99,2.83],[2.99,2.63],[4.99,2.66],[5.58,2.88],[6.73,2.4],[7.16,2.58],[7.25,2.63],[8.21,2.55],[8.73,2.33],[8.04,2.18],[7.53,2.25],[8.78,1.99],[9.8,3.39],[10.17,3.21],[10.5,3.49],[9.38,2.58],[9.23,1.93],[10.54,2.28],[10.67,2.23],[10.21,2.06],[10.67,1.7],[9.69,1.51],[13.69,3.21],[14.46,1.6],[15.52,1.6],[17.89,3.79],[18.85,4.14],[19.28,3.71],[19.46,4.56],[19.65,4.88],[19.68,3.36],[19.59,2.98],[19.28,2.83],[18.96,2.55],[20.05,2.91],[19.83,2.63],[20.89,4.74],[22.7,3.42],[22.79,2.2],[23.16,2.01],[21.65,2.11],[21.13,2.36],[20.67,2.48],[21.13,2.18],[20.05,2.31],[20.2,2.08],[20.67,1.95],[17.46,1.83],[17.8,1.63],[18.54,2.08],[18.63,1.81],[18.35,1.45],[22.15,1.88],[22.02,1.63],[22.61,1.63],[22.33,1.43],[22.65,1.12],[0.03,2.13],[0.4,2.23],[0.59,1.93],[0.22,1.73],[0.86,2.43],[0.96,2.13],[0.0,1.53],[0.49,1.53],[1.6,2.23],[1.79,2.03],[2.53,1.63],[2.96,1.93],[3.49,2.13],[3.33,1.53],[2.07,1.38],[5.55,1.85],[5.58,1.53],[5.8,1.38],[6.47,1.63],[6.84,1.78],[7.69,1.58],[8.17,1.3],[4.2,1.22],[3.92,1.32],[5.12,1.12],[2.77,1.22],[2.59,1.58],[0.22,-2.37],[0.83,-1.79],[0.4,-1.84],[0.99,-2.04],[1.05,-2.39],[1.66,-2.8],[1.84,-2.39],[2.16,-2.9],[1.97,-3.15],[2.53,-2.65],[2.84,-3.3],[3.03,-2.88],[3.36,-2.95],[3.58,-2.39],[3.92,-2.32],[4.23,-2.59],[4.38,-3.25],[5.4,-2.42],[5.58,-2.78],[6.84,-2.09],[6.97,-1.89],[7.3,-2.37],[7.8,-2.98],[7.99,-2.61],[7.62,-2.04],[8.49,-2.07],[8.73,-2.11],[8.49,-3.3],[9.28,-2.88],[10.58,-2.39],[11.84,-1.57],[11.5,-2.49],[11.97,-2.39],[12.34,-2.85],[12.89,-2.69],[12.95,-1.69],[15.06,-1.97],[15.15,-2.49],[16.45,-2.69],[16.69,-2.07],[16.96,-1.69],[17.52,-3.08],[17.37,-1.77],[18.63,-2.69],[19.05,-1.97],[19.92,-2.95],[20.11,-2.78],[20.02,-1.84],[20.2,-1.99],[20.02,-1.59],[20.67,-1.59],[21.13,-2.75],[21.22,-1.84],[21.31,-2.42],[21.68,-3.08],[21.68,-1.79],[22.05,-1.84],[22.33,-4.0],[22.51,-2.09],[22.88,-1.89],[23.16,-2.75],[23.01,-1.99],[20.39,-1.39],[23.07,-0.99],[16.69,-1.19],[16.96,-1.19],[15.98,-0.53],[14.47,-0.99],[13.91,-0.99],[13.54,-0.84],[12.43,-1.24],[11.23,-1.19],[10.73,-1.17],[10.3,-0.94],[10.12,-1.49],[9.28,-1.34],[11.78,-2.49],[12.24,-0.94]];
const p2Red=[[0,0.22],[0.18,0.42],[0.4,0.62],[0.55,0.37],[0.68,0.52],[0.77,0.02],[0.86,-0.58],[0.99,-0.83],[1.14,-0.48],[1.29,-0.68],[1.42,-1.04],[1.57,-1.09],[1.73,-0.48],[1.92,-0.58],[2.07,-0.63],[2.22,-0.83],[2.34,-0.38],[2.57,0.41],[2.77,-0.73],[2.94,-0.06],[3.05,-0.63],[3.18,-0.28],[3.36,-0.46],[3.55,-0.38],[3.73,-0.53],[3.92,-0.38],[4.07,-0.58],[4.25,-0.28],[4.44,-0.68],[4.62,-0.58],[4.75,-0.23],[4.9,-0.38],[5.03,-0.28],[5.21,-0.38],[5.4,-0.6],[5.58,-0.18],[5.77,-0.28],[5.95,-0.73],[6.1,-0.68],[6.29,-0.26],[6.47,0.1],[6.69,-0.13],[6.92,-0.28],[7.06,-0.43],[7.3,-0.06],[7.53,-0.33],[7.71,-0.58],[7.9,-0.63],[8.14,-0.23],[8.36,-0.88],[8.49,-0.93],[8.64,-0.38],[8.78,-0.28],[9.01,-0.18],[9.15,-0.03],[9.38,-0.08],[9.69,0.12],[10.02,0.24],[10.39,0.32],[10.67,0.27],[10.95,0.17],[11.23,-0.08],[11.5,-0.38],[11.73,-0.43],[12.02,-0.18],[12.28,0.02],[12.52,0.04],[12.8,-0.21],[12.98,-0.08],[13.26,0.22],[13.54,0.25],[13.82,0.2],[14.06,0.0],[14.37,0.02],[14.65,-0.01],[14.93,-0.1],[15.11,-0.13],[15.3,0.07],[15.48,0.17],[15.61,0.22],[15.76,0.2],[15.98,0.1],[16.22,0.02],[16.5,-0.16],[16.78,-0.08],[17.02,0.12],[17.39,0.17],[17.61,-0.08],[17.84,0.22],[18.07,0.17],[18.26,0.52],[18.44,0.27],[18.63,0.37],[18.81,0.57],[19.0,0.32],[19.18,0.22],[19.37,0.82],[19.55,1.22],[19.68,1.02],[19.83,0.62],[19.98,0.32],[20.11,0.22],[20.2,-0.18],[20.35,0.42],[20.48,0.22],[20.61,0.42],[20.76,0.27],[20.94,0.52],[21.13,0.32],[21.31,0.22],[21.5,0.17],[21.68,-0.08],[21.83,0.22],[22.05,0.17],[22.2,-0.23],[22.37,-0.58],[22.51,-0.13],[22.7,0.24],[22.88,0.02],[23.07,-0.18],[23.35,-0.23]];
const p2Zero=[-0.85,23.5];
const p2Box=[1.14,9.1,-3.27,3.09];

// ---------- panel 3: A10 / AAC4 ----------
const p3Band=[[0.05,0.5,-0.6,1.2,0.0],[0.2,1.8,-1.0,0.8,-0.3],[0.35,0.3,2.2,-0.7,1.4],[0.5,-0.2,1.0,0.6,-1.2],[0.65,1.6,0.2,-0.5,0.9],[0.8,-0.8,0.6,1.9,0.1],[0.95,0.9,-0.4,1.3,-1.1],[1.1,0.2,1.7,-0.8,0.6],[1.25,-0.3,1.1,0.4,2.0],[1.4,0.8,-0.6,1.5,-0.1],[1.55,-1.0,0.4,1.0,0.0],[1.7,0.6,-0.3,1.3,-0.8],[1.85,0.0,0.9,-0.5,1.6],[2.0,1.2,-0.9,0.3,0.7],[2.15,-0.4,0.6,1.4,-0.1],[2.3,0.9,-0.7,0.2,1.0],[2.45,-0.2,1.5,0.5,-0.9],[2.6,0.7,-0.5,1.1,0.1],[2.75,-0.8,0.4,0.9,-0.3],[2.9,0.3,-0.6,1.2],[3.1,-0.4,0.6,0.0],[3.3,0.2,-0.5,0.8],[3.6,-0.2,0.4,-0.9],[3.9,0.3,-0.7,0.9],[4.2,-0.5,0.1,0.6],[4.5,0.4,-0.9,-0.2],[4.8,0.7,-0.4,0.2],[5.0,0.1,1.0,-0.6],[5.2,0.6,-0.3,1.3],[5.5,-0.5,0.9,0.3],[5.8,1.1,0.2,-0.8],[6.0,0.5,1.3,-0.3],[6.3,-0.6,0.8,1.2],[6.6,0.3,1.1,-1.0],[6.9,0.9,-0.5,0.4],[7.2,-0.3,1.0,0.6],[7.5,0.5,-0.8,0.2],[7.8,-0.2,1.3,0.8],[8.0,0.4,-0.9,1.8,-0.3],[8.2,1.1,0.2,-1.2,0.6],[8.4,-0.5,0.9,1.5,0.0],[8.6,0.7,-0.3,1.2,-0.9],[8.8,0.2,1.5,-0.6,0.8],[9.0,-1.1,0.5,1.0,-0.2],[9.2,0.9,-0.7,0.3,1.4],[9.4,-0.4,0.7,-1.3,0.1],[9.6,1.2,-0.2,0.5,-0.8],[9.8,0.0,0.9,-0.5,1.6],[10.0,-1.0,0.4,1.1,-0.3],[10.2,0.7,-0.9,1.4,0.2],[10.4,-0.6,1.0,0.3,-1.2],[10.6,0.5,-0.4,1.7,0.8],[10.8,-1.1,0.2,0.9,-0.5],[11.0,1.3,-0.7,0.4,0.0],[11.2,-0.3,0.8,-1.4,1.1],[11.4,0.6,-1.0,0.1,1.5],[11.6,-0.8,0.4,1.0,-0.2],[11.8,0.2,-1.3,0.7,1.2],[12.0,-0.5,0.9,-0.9,0.3],[12.2,1.0,-0.3,0.5,-1.5],[12.4,-0.9,0.6,1.3,-0.1],[12.6,0.3,-1.1,0.8,1.6],[12.8,-0.4,1.1,-0.7,0.2],[13.0,0.9,-0.2,1.5,-1.2],[13.2,-1.0,0.5,0.1,1.8],[13.4,0.4,-0.8,1.2,-0.4],[13.6,-0.6,0.9,-1.4,0.3],[13.8,1.1,-0.5,0.6,-1.0],[14.0,-0.2,0.7,-1.6,1.3],[14.2,0.5,-1.2,-0.3,0.9],[14.4,-0.9,0.3,-1.7,-0.1],[14.6,0.8,-0.6,-1.3,0.2],[14.8,-0.4,-1.9,0.5,-1.0],[15.0,0.1,-0.8,-1.5,0.9],[15.2,-1.2,0.4,-0.5,-2.0],[15.4,0.6,-1.0,-0.2,-1.6],[15.6,-0.7,0.2,-1.3,0.7],[15.8,0.0,-1.8,-0.6,1.0],[16.0,-1.1,0.5,-0.3,-1.5],[16.2,0.3,-0.9,-2.1,0.8],[16.4,-0.5,-1.4,0.6,-0.2],[16.6,0.9,-1.1,-0.4,-1.8],[16.8,-0.8,0.2,-1.3,0.5],[17.0,0.4,-0.6,-1.9,-0.1],[17.2,-1.4,0.7,-0.9,0.1],[17.4,-0.3,-1.2,0.3,-0.7]];
const p3Band2=[[0.12,0.9,-0.3,1.5,-0.9],[0.28,-0.5,0.4,1.1,2.6],[0.42,1.3,-0.1,0.7,-0.8],[0.58,0.2,-1.0,1.8,0.5],[0.72,-0.4,1.2,0.3,-1.4],[0.88,1.0,-0.7,0.5,2.1],[1.02,-0.2,0.8,-1.2,1.4],[1.18,0.5,-0.4,1.9,0.0],[1.32,-0.9,0.7,1.2,-0.3],[1.48,0.3,1.6,-0.7,0.9],[1.62,-0.5,0.2,1.1,-1.1],[1.78,0.9,-0.2,1.7,0.4],[1.92,-0.8,0.5,1.2,-0.1],[2.08,0.2,-0.6,0.9,1.6],[2.22,-0.3,1.1,0.4,-1.0],[2.38,0.7,-0.9,1.3,0.0],[2.52,-0.5,0.3,0.9,1.9],[2.68,0.1,-0.3,1.4,-1.2],[2.82,0.6,-0.8,0.2],[3.0,-0.2,0.9,0.4],[3.2,0.5,-0.7,0.1],[3.45,-0.5,0.6],[3.75,0.1,-0.3],[4.05,0.6,-0.6],[4.35,-0.2,0.3],[4.65,0.5,-0.5],[4.9,0.9,-0.1],[5.1,-0.7,0.4],[5.35,1.1,0.0],[5.65,0.6,-0.4],[5.9,1.3,-0.6],[6.15,0.9,0.0],[6.45,-0.3,1.3],[6.75,0.7,-0.7],[7.05,1.2,-0.2],[7.35,0.3,-0.5],[7.65,1.0,0.0],[7.9,-0.6,0.7,2.0],[8.1,0.9,-0.4,1.3,0.2],[8.3,-0.8,0.5,1.9,-0.1],[8.5,0.3,1.2,-0.6,0.7],[8.7,-0.3,0.9,-1.0,1.7],[8.9,0.6,-0.5,1.2,0.0],[9.1,-0.7,0.3,0.9,-1.4],[9.3,1.1,-0.2,0.6,1.8],[9.5,-0.6,0.5,-0.9,1.0],[9.7,0.4,-1.1,1.3,0.1],[9.9,-0.3,0.7,-0.7,1.1],[10.1,0.9,-0.5,0.2,1.9],[10.3,-0.8,0.4,1.2,-1.5],[10.5,0.1,-0.7,0.9,1.4],[10.7,-0.4,1.2,-1.0,0.3],[10.9,0.8,-0.2,1.5,-0.9],[11.1,-1.2,0.5,0.1,1.0],[11.3,0.3,-0.6,1.3,-0.2],[11.5,-0.9,1.0,0.4,-1.2],[11.7,0.7,-0.4,1.1,0.0],[11.9,-0.6,0.3,-1.5,0.9],[12.1,1.2,-0.8,0.2,1.5],[12.3,-0.2,0.6,-1.1,0.4],[12.5,0.9,-0.5,1.4,-1.3],[12.7,-0.7,0.2,0.8,-0.1],[12.9,0.5,-1.2,1.2,0.1],[13.1,-0.3,0.9,-0.8,1.5],[13.3,0.7,-0.5,1.9,-1.1],[13.5,-1.1,0.3,0.9,0.0],[13.7,0.6,-0.9,1.4,-0.4],[13.9,-0.4,1.1,-1.2,0.2],[14.1,0.3,-0.7,-1.5,1.0],[14.3,-0.6,0.5,-1.1,-2.0],[14.5,0.2,-1.4,-0.6,0.6],[14.7,-0.9,0.0,-1.7,0.9],[14.9,0.4,-1.1,-0.3,-2.2],[15.1,-0.6,0.6,-1.4,-0.1],[15.3,0.3,-0.9,-1.8,0.8],[15.5,-1.1,-0.3,0.4,-1.5],[15.7,0.5,-0.7,-2.1,-0.2],[15.9,-0.4,0.2,-1.2,-1.7],[16.1,0.7,-1.0,-0.1,-1.4],[16.3,-0.8,0.4,-1.6,0.0],[16.5,0.2,-0.5,-1.2,-2.0],[16.7,-1.0,0.6,-0.3,-1.5],[16.9,0.5,-0.8,-1.7,0.1],[17.1,-0.4,-1.3,0.2,-0.9],[17.3,0.6,-0.6,-1.6,-0.2],[17.5,-1.0,0.0,-0.4,-1.7]];
const p3Band3=[[0.08,0.2,0.8,-0.3],[0.25,0.6,-0.1,1.2],[0.4,0.0,0.9,0.4],[0.55,0.7,-0.4,0.3],[0.7,0.1,1.0,-0.2],[0.85,0.5,0.0,0.9],[1.0,-0.3,0.4,1.1],[1.15,0.8,0.1,-0.4],[1.3,0.3,0.9,-0.1],[1.45,-0.2,0.6,0.2],[1.6,0.8,0.2,-0.5],[1.75,0.4,-0.2,1.0],[1.9,0.1,0.7,-0.3],[2.05,0.5,-0.4,0.9],[2.2,0.2,0.8,-0.1],[2.35,-0.3,0.4,0.6],[2.5,0.7,0.0,1.1],[2.65,0.3,-0.2,0.8],[2.8,-0.1,0.5],[3.4,0.2,-0.3],[4.0,-0.1,0.3],[4.6,0.2,-0.2],[5.2,0.4,-0.1],[5.8,0.3,0.7],[6.4,0.1,0.6],[7.0,0.4,-0.2],[7.6,0.2,0.5],[8.05,0.1,0.6,-0.4],[8.25,0.5,-0.2,1.0],[8.45,-0.3,0.3,0.8],[8.65,0.6,0.0,-0.5],[8.85,0.2,0.8,-0.2],[9.05,-0.4,0.4,0.9],[9.25,0.5,-0.1,0.2],[9.45,0.0,0.7,-0.5],[9.65,0.4,-0.3,0.9],[9.85,-0.2,0.5,0.1],[10.05,0.6,-0.5,0.3],[10.25,0.1,0.9,-0.2],[10.45,-0.4,0.4,0.7],[10.65,0.3,-0.1,-0.6],[10.85,0.7,0.1,-0.3],[11.05,-0.2,0.5,0.9],[11.25,0.4,-0.5,0.1],[11.45,-0.1,0.7,-0.7],[11.65,0.3,-0.3,0.6],[11.85,-0.5,0.1,0.9],[12.05,0.2,-0.4,0.6],[12.25,-0.2,0.4,-0.8],[12.45,0.5,-0.6,0.1],[12.65,-0.3,0.3,0.9],[12.85,0.1,-0.5,0.6],[13.05,-0.4,0.4,0.0],[13.25,0.3,-0.3,0.8],[13.45,-0.5,0.1,0.6],[13.65,0.2,-0.4,1.0],[13.85,-0.2,0.5,-0.7],[14.05,0.3,-0.5,0.1],[14.25,-0.4,-0.9,0.2],[14.45,-0.6,0.0,-1.2],[14.65,-0.2,-0.8,0.3],[14.85,-0.9,-0.3,-1.3],[15.05,-0.5,0.1,-1.0],[15.25,-0.2,-0.8,-1.4],[15.45,-0.7,-0.1,0.3],[15.65,-0.4,-1.0,-0.2],[15.85,-0.8,0.0,-1.2],[16.05,-0.3,-0.9,0.2],[16.25,-0.6,-1.3,-0.1],[16.45,-0.9,-0.4,0.1],[16.65,-0.2,-0.8,-1.4],[16.85,-0.6,0.1,-1.0],[17.05,-0.4,-1.2,-0.8],[17.25,-0.7,-0.2,-1.1],[17.45,-0.5,-1.0,0.0]];
const p3Band4=[[0.15,0.4,-0.5,1.0],[0.3,1.5,0.1,-0.2],[0.45,-0.6,0.6,1.9],[0.6,0.9,-0.2,0.2],[0.75,0.3,1.4,-0.7],[0.9,-0.1,0.7,1.6],[1.05,0.5,-0.5,0.0],[1.2,1.2,0.4,-0.9],[1.35,0.0,0.8,1.7],[1.5,-0.6,0.5,1.1],[1.65,1.4,0.1,-0.2],[1.8,0.6,-0.6,0.9],[1.95,-0.2,1.0,0.4],[2.1,1.3,0.0,-0.8],[2.25,0.5,-0.3,1.7],[2.4,0.1,0.9,-0.5],[2.55,1.2,-0.1,0.4],[2.7,0.8,-0.7,0.0],[8.15,-0.2,0.6,1.2],[8.35,0.3,-0.6,1.0],[8.55,0.9,-0.1,-0.8],[8.75,-0.5,0.4,1.3],[8.95,0.7,0.0,-0.6],[9.15,0.2,1.1,-0.3],[9.35,-0.8,0.3,0.8],[9.55,0.6,-0.4,1.4],[9.75,-0.1,0.9,-1.0],[9.95,0.4,-0.6,0.6],[10.15,-0.4,0.2,1.2],[10.35,0.8,-0.2,-0.8],[10.55,0.0,0.6,-0.4],[10.75,0.5,-0.9,1.0],[10.95,-0.6,0.3,0.7],[11.15,0.9,-0.3,0.2],[11.35,-0.2,0.6,-1.1],[11.55,0.5,-0.7,1.2],[11.75,-0.9,0.1,0.4],[11.95,0.6,-0.2,-1.0],[12.15,-0.4,0.9,0.1],[12.35,0.3,-0.9,0.7],[12.55,-0.6,0.4,1.1],[12.75,0.8,-0.4,0.0],[12.95,-0.2,0.6,-1.0],[13.15,0.4,-0.7,1.1],[13.35,-0.9,0.2,0.6],[13.55,0.6,-0.3,-1.2],[13.75,-0.1,0.8,0.3],[13.95,0.5,-0.9,-0.3],[14.15,-0.5,0.3,-1.3],[14.35,-0.1,-0.7,0.6],[14.55,-1.0,-0.4,0.2],[14.75,-0.6,-1.4,0.4],[14.95,-0.2,-0.9,-1.8],[15.15,-0.9,-0.4,0.5],[15.35,-0.4,-1.2,0.1],[15.55,-0.8,0.0,-1.6],[15.75,-0.3,-1.1,0.4],[15.95,-0.7,-0.2,-1.4],[16.15,-1.1,-0.5,0.3],[16.35,-0.3,-0.9,-1.7],[16.55,-0.7,0.2,-1.1],[16.75,-0.4,-1.0,-0.1],[16.95,-0.9,-0.3,-1.5],[17.15,-0.2,-0.8,0.4],[17.35,-1.0,-0.4,-1.4]];
const p3Out=[[0.55,6.58],[0.21,5.34],[0.27,4.7],[0.23,4.04],[0.44,3.78],[0.14,3.24],[0.51,3.08],[0.27,2.83],[0.64,2.61],[0.78,2.78],[1.98,4.55],[1.1,3.66],[1.22,3.36],[2.2,2.78],[2.84,2.74],[2.57,2.5],[2.64,2.4],[6.11,3.04],[7.83,4.43],[8.33,4.55],[13.04,5.13],[11.59,3.93],[10.42,3.32],[10.57,2.94],[10.3,2.63],[11.15,2.78],[12.62,2.89],[12.82,2.8],[14.14,2.78],[14.42,3.06],[14.79,2.91],[15.0,3.83],[16.64,4.06],[15.93,2.53],[14.95,2.74],[11.63,2.36],[8.2,2.51],[8.4,2.44],[7.13,2.44],[4.17,2.06],[5.38,2.27],[5.66,2.1],[8.61,1.95],[8.95,1.97],[9.09,1.95],[9.67,2.23],[10.16,2.02],[12.66,2.44],[13.21,2.4],[13.14,2.19],[12.93,1.93],[13.69,2.06],[14.1,2.27],[14.47,2.02],[14.72,2.02],[15.16,2.15],[15.3,1.76],[15.82,1.93],[16.61,2.17],[15.93,2.32],[17.26,1.55],[14.44,1.61],[16.64,1.42],[16.34,1.44],[16.85,1.42],[14.86,0.95],[2.54,-4.88],[15.0,-4.52],[1.61,-3.66],[2.2,-3.71],[1.15,-3.35],[3.16,-3.31],[2.43,-3.09],[0.74,-3.01],[0.89,-2.75],[1.68,-2.58],[1.81,-2.75],[2.27,-2.65],[0.74,-2.33],[0.69,-1.81],[0.17,-1.94],[0.78,-1.54],[0.27,-1.43],[0.3,-1.63],[1.19,-1.32],[1.54,-1.56],[1.65,-1.69],[2.05,-1.5],[2.57,-1.09],[7.95,-2.64],[5.31,-1.9],[5.29,-1.59],[4.46,-1.3],[4.86,-1.22],[8.84,-1.99],[8.79,-1.52],[9.27,-1.88],[10.12,-2.44],[10.32,-1.99],[10.53,-2.09],[10.6,-2.2],[10.87,-2.28],[11.49,-1.77],[11.67,-1.77],[11.97,-2.61],[12.22,-2.33],[12.11,-2.0],[12.93,-2.03],[12.97,-2.27],[13.35,-2.2],[13.41,-1.86],[13.83,-1.86],[14.1,-1.9],[14.38,-1.99],[14.72,-2.16],[14.79,-2.71],[14.93,-2.5],[15.1,-2.2],[15.27,-1.9],[15.68,-2.92],[16.09,-2.48],[16.37,-2.75],[15.98,-2.16],[16.78,-2.2],[16.67,-1.94],[17.05,-1.81],[17.22,-2.88],[17.3,-2.2],[17.33,-3.22],[16.85,-2.24],[14.51,-1.66],[14.33,-1.73],[15.52,-1.75],[15.75,-1.47],[16.23,-1.43],[17.46,-1.43],[17.39,-1.77]];
const p3Red=[[0.0,-0.24],[0.14,-0.03],[0.23,1.46],[0.33,0.49],[0.44,-0.2],[0.58,1.08],[0.69,0.23],[0.78,-0.28],[0.89,0.23],[1.02,0.78],[1.13,0.66],[1.24,0.14],[1.33,0.31],[1.43,0.06],[1.51,0.23],[1.61,-0.2],[1.74,-0.49],[1.88,0.02],[1.99,0.44],[2.09,0.23],[2.22,-0.14],[2.43,-0.03],[2.57,0.06],[2.77,0.7],[2.94,0.14],[3.12,-0.2],[3.32,-0.03],[3.53,0.08],[3.73,0.1],[4.01,0.04],[4.28,-0.09],[4.49,-0.07],[4.7,0.06],[4.9,0.19],[5.11,-0.01],[5.27,0.16],[5.49,0.31],[5.63,0.23],[5.79,0.19],[6.0,0.1],[6.21,0.14],[6.48,0.12],[6.76,0.06],[7.03,0.02],[7.3,-0.04],[7.51,0.08],[7.72,0.23],[7.92,0.4],[8.1,0.61],[8.2,0.83],[8.29,0.57],[8.4,0.06],[8.54,0.14],[8.65,0.4],[8.79,-0.03],[8.92,0.23],[9.05,0.61],[9.16,0.23],[9.27,0.14],[9.41,0.49],[9.54,0.23],[9.68,0.19],[9.82,-0.07],[9.95,0.44],[10.08,-0.07],[10.21,0.44],[10.32,-0.03],[10.46,0.49],[10.6,0.14],[10.74,0.57],[10.9,-0.09],[11.08,0.49],[11.22,0.4],[11.33,0.74],[11.46,0.14],[11.6,0.23],[11.73,-0.28],[11.86,-0.03],[12.0,-0.32],[12.14,-0.03],[12.27,-0.27],[12.41,0.27],[12.52,0.1],[12.63,0.31],[12.73,-0.11],[12.82,0.42],[12.93,0.06],[13.04,0.44],[13.14,0.61],[13.21,-0.03],[13.32,-0.58],[13.43,0.14],[13.55,0.19],[13.69,-0.11],[13.83,0.23],[13.96,0.02],[14.07,0.27],[14.21,-0.2],[14.33,-0.49],[14.44,-0.37],[14.55,-0.67],[14.69,-0.28],[14.83,-0.75],[15.0,-0.24],[15.1,-0.37],[15.24,-0.28],[15.38,-0.49],[15.47,-0.15],[15.61,-0.54],[15.75,-0.92],[15.89,-0.41],[16.02,-0.28],[16.13,-0.58],[16.26,-0.15],[16.37,-0.58],[16.5,-0.37],[16.61,-0.24],[16.75,-0.54],[16.91,-0.52],[17.08,-0.35],[17.19,-0.67],[17.3,-0.86],[17.42,-0.62],[17.51,-0.41]];
const p3Zero=[-0.25,17.55];
const p3Box=[14.17,18.09,-3.29,2.54];

// ---------- panel 4: A02 / AAC6 ----------
const p4Band=[[0.1,0.7,-0.8,1.1,-1.4],[0.3,0.2,-0.4,0.9,-1.1],[0.5,-0.7,1.2,-1.6,0.4],[0.7,0.8,-0.2,-1.0,0.1],[0.9,-0.5,0.5,-1.4,1.0],[1.1,0.3,-0.9,0.7,-0.3],[1.3,-1.2,0.6,-0.6,1.3],[1.5,0.1,-1.7,0.9,-0.4],[1.7,-0.8,0.4,-1.1,1.1],[1.9,0.6,-0.5,0.2,-1.5],[2.1,-0.2,1.0,-0.9,0.3],[2.3,0.8,-1.3,-0.4,0.5],[2.5,-0.6,0.2,1.2,-1.0],[2.7,0.4,-0.8,-0.2,0.9],[2.9,-1.4,0.7,0.0,-0.5],[3.1,0.2,-1.0,1.0,-0.3],[3.3,-0.7,0.5,-1.5,0.8],[3.5,1.1,-0.4,0.3,-0.9],[3.7,-0.2,0.9,-1.2,0.4],[3.9,0.6,-0.7,1.3,-0.1],[4.1,-1.1,0.3,-0.5,0.9],[4.3,0.4,-1.4,0.8,-0.3],[4.5,-0.6,1.0,-0.9,0.2],[4.7,0.9,-0.2,-1.6,0.5],[4.9,-0.4,0.6,-1.0,1.2],[5.1,0.3,-1.2,0.1,-0.6],[5.3,-0.9,0.8,-0.3,1.0],[5.5,0.5,-0.6,-1.4,0.2],[5.7,-0.2,1.1,-0.8,0.6],[5.9,0.8,-1.0,0.3,-0.4],[6.1,-1.3,0.4,-0.6,0.9],[6.3,0.1,-0.9,1.2,-0.2],[6.5,-0.7,0.6,-1.5,0.3],[6.7,1.0,-0.3,0.5,-1.1],[6.9,-0.5,0.8,-0.9,0.1],[7.1,0.4,-1.3,1.4,-0.6],[7.3,-1.0,0.2,-0.4,0.7],[7.5,0.6,-0.8,1.0,-1.6],[7.7,-0.3,0.9,-1.2,0.4],[7.9,1.2,-0.5,0.0,-0.9],[8.1,-0.8,0.3,-1.4,0.7],[8.3,0.2,-1.1,0.9,-0.3],[8.5,-0.6,0.6,-0.9,1.1],[8.7,0.8,-0.4,-1.3,0.1],[8.9,-1.2,0.5,-0.2,0.9],[9.1,0.3,-0.8,1.2,-1.5],[9.3,-0.5,0.9,-1.0,0.2],[9.5,0.6,-0.3,-1.6,1.0],[9.7,-0.9,0.4,-0.5,0.7],[9.9,0.1,-1.2,0.8,-0.4],[10.2,-0.7,0.6,1.3],[10.5,0.3,-1.1,-0.3],[10.8,-0.5,0.9,-1.4],[11.1,1.0,-0.2,-0.8],[11.4,-1.1,0.4,0.8],[11.7,0.2,-0.7,1.2],[12.0,-0.4,0.7,-1.2],[12.3,0.9,-0.9,0.1],[12.6,-0.6,0.4,-1.5],[12.9,0.5,-0.3,1.0],[13.2,-1.0,0.2,0.7],[13.5,0.3,-0.8,-1.3],[13.8,-0.2,0.9,-0.6],[14.1,0.6,-1.1,0.2],[14.4,-0.7,0.4,-1.5],[14.7,0.2,-0.5,1.1],[15.0,0.8,-0.9],[15.4,-0.3,0.5],[15.8,0.4,-0.6],[16.2,-0.2,0.3],[16.6,0.6,-0.4],[17.0,-0.5,0.9,0.2],[17.3,1.3,-0.7,0.4],[17.6,-0.3,1.0,-1.2],[17.9,0.7,-0.5,0.1],[18.2,-1.0,0.4,1.1],[18.5,0.2,-0.8,0.6],[18.8,-0.4,1.0,-1.1],[19.1,0.5,-0.2,0.9],[19.4,-0.8,0.3,1.3],[19.7,0.1,1.2,-0.6,0.7],[19.9,0.9,-0.3,0.4,1.4],[20.1,-0.9,0.6,1.0,0.2],[20.3,0.4,1.5,-0.4,0.8],[20.5,-0.2,0.9,0.3,-1.0],[20.7,1.1,0.1,-0.7,0.6],[20.9,-0.5,0.7,1.3,0.0],[21.1,0.3,-0.9,0.9,1.6],[21.3,0.8,-0.4,0.2,-1.2],[21.5,-0.1,1.1,0.5,-0.6],[21.7,0.6,-1.3,1.4,0.0],[21.9,-0.6,0.4,1.0,0.3],[22.1,1.2,-0.2,0.6,-0.9],[22.3,0.2,0.9,-0.6,1.3],[22.5,-0.8,0.4,0.8,-0.1],[22.7,0.5,-1.1,0.1,-0.5],[22.9,-0.3,0.7,-1.4,0.2],[23.1,0.6,-0.8,1.0,-0.2],[23.3,-1.1,0.3,-0.5,0.8],[23.5,0.2,-0.9,1.1,-1.5],[23.7,-0.6,0.5,-0.1,0.9],[23.9,0.9,-1.2,0.3,-0.7],[24.1,-0.4,0.6,-1.3,0.1],[24.3,0.4,-0.3,1.0,-0.9],[24.5,-1.0,0.8,-0.5,0.2],[24.7,0.7,-1.4,0.3,-0.2],[24.9,-0.3,0.5,-0.9,1.1],[25.1,0.6,-0.6,-1.2,0.2],[25.3,-0.8,0.9,0.0,-0.4],[25.5,0.3,-1.1,0.7,-0.5],[25.7,-0.5,0.4,-1.6,0.9]];
const p4Band2=[[0.0,0.2,-0.5,1.4,-1.0],[0.2,-0.3,0.9,-1.3,0.5],[0.4,1.0,-0.6,0.2,-1.8],[0.6,-0.9,0.4,-0.3,1.1],[0.8,0.6,-1.2,0.1,-0.6],[1.0,-0.3,0.9,-0.9,0.3],[1.2,0.5,-0.5,-1.5,1.1],[1.4,-0.8,0.2,0.8,-0.2],[1.6,0.9,-0.9,0.4,-1.3],[1.8,-0.4,0.6,-0.7,0.1],[2.0,0.3,-1.1,1.2,-0.5],[2.2,-1.0,0.4,-0.2,0.8],[2.4,0.6,-0.7,-1.4,0.1],[2.6,-0.3,1.0,-0.8,0.4],[2.8,0.9,-0.4,-1.2,0.0],[3.0,-0.6,0.5,-1.0,1.2],[3.2,0.3,-1.3,0.7,-0.4],[3.4,-0.9,0.2,-0.5,0.9],[3.6,0.6,-0.9,0.1,-1.4],[3.8,-0.4,0.8,-1.0,0.3],[4.0,1.0,-0.2,-0.7,0.5],[4.2,-0.7,0.4,-1.3,0.0],[4.4,0.2,-0.9,0.9,-0.4],[4.6,-1.1,0.6,-0.2,1.0],[4.8,0.4,-0.6,-1.2,0.2],[5.0,-0.5,1.1,-0.9,0.6],[5.2,0.8,-0.3,-1.5,0.1],[5.4,-0.2,0.5,-0.8,1.2],[5.6,0.9,-1.1,0.3,-0.4],[5.8,-0.6,0.2,-1.3,0.7],[6.0,0.3,-0.7,1.0,-0.1],[6.2,-1.0,0.8,-0.4,0.4],[6.4,0.6,-0.3,-1.1,1.1],[6.6,-0.3,0.5,-0.8,0.0],[6.8,0.9,-1.0,0.2,-1.4],[7.0,-0.6,0.3,-0.3,1.0],[7.2,0.2,-0.9,1.1,-0.5],[7.4,-1.2,0.6,-0.2,0.4],[7.6,0.7,-0.4,-1.0,0.1],[7.8,-0.4,1.0,-1.3,0.5],[8.0,0.5,-0.7,0.2,-0.2],[8.2,-0.9,0.4,-0.6,1.2],[8.4,0.8,-0.2,-1.1,0.3],[8.6,-0.3,0.7,-1.4,0.0],[8.8,0.3,-0.9,1.0,-0.5],[9.0,-0.7,0.2,-0.3,0.8],[9.2,1.0,-0.6,0.4,-1.2],[9.4,-0.2,0.6,-0.9,0.1],[9.6,0.4,-1.0,1.2,-0.3],[9.8,-0.8,0.3,-0.5,0.7],[10.05,0.5,-0.4,-1.0],[10.35,-0.2,0.9,-0.7],[10.65,0.6,-0.9,0.2],[10.95,-0.4,0.3,1.1],[11.25,0.7,-1.2,-0.1],[11.55,-0.6,0.5,0.0],[11.85,0.3,-0.4,-1.0],[12.15,-0.8,0.9,0.2],[12.45,0.5,-0.6,-1.2],[12.75,-0.2,0.3,0.9],[13.05,0.6,-1.0,-0.3],[13.35,-0.5,0.6,0.1],[13.65,0.2,-0.7,1.0],[13.95,-0.9,0.4,-0.2],[14.25,0.5,-0.3,-1.1],[14.55,-0.4,0.8,0.0],[14.85,0.3,-0.7],[15.2,-0.5,0.2],[15.6,0.6,-0.2],[16.0,-0.4,0.7],[16.4,0.2,-0.6],[16.8,0.4,-0.2],[17.15,-0.9,0.6],[17.45,0.2,-0.4,1.5],[17.75,-0.7,0.8],[18.05,0.3,-1.1],[18.35,-0.3,0.7],[18.65,0.5,-0.5],[18.95,-0.9,0.2],[19.25,0.6,-0.4],[19.55,-0.2,1.0],[19.8,0.4,-0.8,1.7,0.2],[20.0,1.1,-0.2,0.6,-0.6],[20.2,0.0,0.9,-1.3,1.2],[20.4,-0.6,0.4,1.1,0.1],[20.6,0.7,-0.2,1.6,-0.5],[20.8,0.2,1.0,-0.9,0.5],[21.0,-0.3,0.6,1.4,-0.1],[21.2,1.0,0.0,-0.6,0.7],[21.4,-0.5,0.8,0.3,1.8],[21.6,0.4,-0.3,1.1,-1.0],[21.8,1.3,0.1,-0.5,0.8],[22.0,-0.2,0.6,1.7,0.0],[22.2,0.5,-0.8,1.0,0.3],[22.4,-0.4,0.9,0.2,1.5],[22.6,0.6,-0.3,-1.2,0.2],[22.8,-0.8,0.3,0.9,-0.4],[23.0,0.1,-1.0,0.6,-0.2],[23.2,-0.4,0.8,-1.3,0.4],[23.4,0.6,-0.6,0.2,-1.1],[23.6,-0.9,0.3,1.0,-0.3],[23.8,0.4,-0.5,-1.4,0.7],[24.0,-0.2,0.9,-0.8,0.1],[24.2,0.7,-1.1,0.4,-0.4],[24.4,-0.6,0.2,1.2,-1.3],[24.6,0.3,-0.8,0.6,0.0],[24.8,-1.1,0.4,-0.3,0.8],[25.0,0.5,-0.5,1.0,-0.9],[25.2,-0.3,0.7,-1.5,0.1],[25.4,0.8,-0.7,0.3,-1.2],[25.6,-0.2,0.5,-0.9,1.0],[25.8,0.3,-0.6,-1.2,0.6]];
const p4Band3=[[0.05,-0.3,0.4,-0.9],[0.25,0.1,-0.6,0.6],[0.45,-0.4,0.3,-1.1],[0.65,0.5,-0.2,-0.7],[0.85,-0.1,0.6,-0.5],[1.05,-0.8,0.2,0.0],[1.25,0.3,-0.4,-1.0],[1.45,-0.5,0.6,0.0],[1.65,0.2,-0.8,-0.3],[1.85,-0.6,0.1,0.5],[2.05,0.4,-0.3,-0.9],[2.25,-0.2,0.5,-0.6],[2.45,0.0,-1.0,0.3],[2.65,-0.7,0.2,0.6],[2.85,0.3,-0.5,-0.1],[3.05,-0.3,0.5,-1.1],[3.25,0.1,-0.7,0.4],[3.45,-0.5,0.3,-0.2],[3.65,0.4,-0.3,-0.8],[3.85,-0.1,0.6,-0.5],[4.05,-0.7,0.1,0.4],[4.25,0.2,-0.5,-1.0],[4.45,-0.3,0.5,0.0],[4.65,0.4,-0.8,-0.2],[4.85,-0.6,0.2,0.6],[5.05,0.1,-0.4,-0.9],[5.25,-0.2,0.6,-0.6],[5.45,0.3,-0.9,0.0],[5.65,-0.5,0.1,0.5],[5.85,0.2,-0.3,-1.0],[6.05,-0.4,0.5,-0.1],[6.25,0.4,-0.6,0.1],[6.45,-0.1,0.3,-0.8],[6.65,-0.7,0.0,0.6],[6.85,0.3,-0.4,-0.2],[7.05,-0.2,0.6,-0.9],[7.25,0.5,-0.6,0.0],[7.45,-0.4,0.2,-0.7],[7.65,0.1,-0.2,0.6],[7.85,-0.6,0.4,-0.1],[8.05,0.3,-0.8,0.0],[8.25,-0.3,0.5,-0.5],[8.45,0.0,-0.6,0.4],[8.65,-0.5,0.2,-1.0],[8.85,0.4,-0.3,0.1],[9.05,-0.2,0.6,-0.7],[9.25,0.2,-0.5,-0.1],[9.45,-0.6,0.1,0.5],[9.65,0.3,-0.8,-0.3],[9.85,-0.1,0.5,-0.6],[10.5,0.1,-0.5],[11.0,-0.3,0.4],[11.5,0.2,-0.6],[12.0,-0.1,0.3],[12.5,0.4,-0.4],[13.0,-0.5,0.1],[13.5,0.3,-0.2],[14.0,-0.3,0.4],[14.5,0.1,-0.6],[17.2,0.1,-0.3],[17.8,0.3,-0.1],[18.4,-0.4,0.2],[19.0,0.0,-0.5],[19.75,0.3,0.9,-0.2],[19.95,0.6,0.1,1.0],[20.15,0.2,0.8,-0.3],[20.35,0.7,0.0,0.4],[20.55,0.1,0.6,1.1],[20.75,0.5,-0.2,0.8],[20.95,0.2,0.9,-0.4],[21.15,0.6,0.1,0.4],[21.35,0.0,0.7,1.0],[21.55,0.4,-0.3,0.8],[21.75,0.8,0.2,-0.1],[21.95,0.3,1.0,0.5],[22.15,0.6,-0.1,0.9],[22.35,0.2,0.7,-0.3],[22.55,0.5,0.0,0.9],[22.8,-0.2,0.4,-0.7],[23.0,0.2,-0.5,0.0],[23.2,-0.4,0.3,-0.9],[23.4,0.1,-0.2,0.5],[23.6,-0.6,0.2,-0.3],[23.8,0.3,-0.7,0.0],[24.0,-0.2,0.4,-0.5],[24.2,0.1,-0.9,0.5],[24.4,-0.5,0.2,-0.1],[24.6,0.4,-0.4,-0.9],[24.8,-0.1,0.3,-0.6],[25.0,0.2,-0.7,0.0],[25.2,-0.4,0.4,-0.2],[25.4,0.0,-0.6,0.5],[25.6,-0.3,0.2,-0.8],[25.8,0.1,-0.4,0.3]];
const p4Band4=[[0.15,-0.2,0.5,-1.2],[0.35,0.4,-0.9,0.0],[0.55,-0.4,0.8,-0.8],[0.75,0.2,-0.5,-1.3],[0.95,-0.9,0.1,0.7],[1.15,0.5,-0.3,-0.7],[1.35,-0.2,0.8,-1.2],[1.55,0.3,-0.6,0.4],[1.75,-1.0,-0.1,0.6],[1.95,0.1,-0.8,0.9],[2.15,-0.5,0.3,-1.2],[2.35,0.6,-0.2,-0.7],[2.55,-0.3,0.7,-0.9],[2.75,0.1,-1.2,0.5],[2.95,-0.7,0.3,-0.2],[3.15,0.5,-0.6,-1.3],[3.35,-0.2,0.7,-0.8],[3.55,0.2,-1.0,0.4],[3.75,-0.6,0.1,-0.3],[3.95,0.8,-0.4,-1.1],[4.15,-0.3,0.6,-0.7],[4.35,0.1,-1.1,0.4],[4.55,-0.8,0.3,-0.3],[4.75,0.6,-0.5,-1.0],[4.95,-0.1,0.9,-0.6],[5.15,0.3,-0.8,0.5],[5.35,-0.6,0.2,-1.2],[5.55,0.7,-0.1,-0.6],[5.75,-0.4,0.4,-0.9],[5.95,0.1,-1.1,0.6],[6.15,-0.8,0.2,-0.3],[6.35,0.5,-0.5,-1.2],[6.55,-0.2,0.8,-0.6],[6.75,0.2,-0.8,0.3],[6.95,-0.6,0.4,-1.0],[7.15,0.7,-0.3,-0.8],[7.35,-0.3,0.5,-1.3],[7.55,0.2,-0.9,0.6],[7.75,-0.8,0.1,-0.4],[7.95,0.4,-0.6,-1.1],[8.15,-0.2,0.7,-0.7],[8.35,0.5,-1.0,0.2],[8.55,-0.5,0.3,-1.2],[8.75,0.1,-0.4,0.8],[8.95,-0.9,0.5,-0.2],[9.15,0.4,-0.7,-1.0],[9.35,-0.3,0.2,0.7],[9.55,0.6,-1.1,-0.3],[9.75,-0.5,0.6,-0.9],[9.95,0.2,-0.4,0.4],[19.85,0.2,-0.4,1.1],[20.05,0.8,0.3,-0.2],[20.25,-0.1,0.6,1.3],[20.45,0.5,-0.6,0.9],[20.65,0.0,0.8,0.3],[20.85,0.9,-0.3,0.6],[21.05,0.3,1.1,-0.5],[21.25,-0.2,0.5,0.9],[21.45,0.7,0.1,-0.8],[21.65,0.2,0.9,0.5],[21.85,-0.4,0.6,1.1],[22.05,0.8,-0.1,0.3],[22.25,0.4,1.2,-0.5],[22.45,-0.2,0.6,1.0],[22.65,0.3,-0.7,0.5],[22.85,-0.5,0.1,-1.0],[23.05,0.5,-0.3,0.8],[23.25,-0.2,0.6,-0.6],[23.45,0.3,-1.0,0.0],[23.65,-0.7,0.4,-0.4],[23.85,0.6,-0.2,-1.0],[24.05,-0.4,0.3,0.7],[24.25,0.2,-0.7,-0.2],[24.45,-0.8,0.5,0.0],[24.65,0.1,-0.3,0.8],[24.85,-0.5,0.6,-1.1],[25.05,0.3,-0.9,0.1],[25.25,-0.2,0.4,-0.7],[25.45,0.6,-0.4,-1.0],[25.65,-0.6,0.1,0.5]];
const p4Out=[[24.08,4.83],[5.95,4.4],[4.99,4.2],[11.62,3.91],[11.09,3.43],[10.37,3.2],[11.05,2.98],[11.55,3.02],[17.5,3.09],[21.5,3.56],[21.9,2.89],[24.08,2.66],[12.98,2.73],[13.0,2.59],[13.49,2.39],[13.49,1.99],[25.37,2.5],[25.47,2.23],[2.49,2.55],[1.47,2.48],[7.07,2.89],[7.89,2.82],[7.11,2.39],[7.44,2.45],[7.07,2.18],[6.32,2.09],[6.62,1.88],[6.73,1.82],[7.24,1.9],[10.09,2.14],[10.7,2.17],[20.93,2.21],[21.23,2.26],[21.99,2.12],[20.38,1.99],[22.15,1.81],[20.97,1.67],[19.85,1.61],[14.67,1.76],[13.96,2.18],[17.36,1.97],[17.6,1.81],[18.48,1.72],[17.36,1.53],[3.37,2.06],[3.92,1.74],[0.62,2.03],[0.66,1.91],[0.45,1.67],[1.51,1.88],[1.88,1.9],[2.18,1.9],[2.08,1.73],[2.55,1.94],[2.53,1.72],[0.19,1.52],[5.34,1.74],[5.34,1.35],[8.03,1.72],[8.46,1.67],[8.8,1.64],[11.25,1.62],[12.06,1.64],[10.94,1.26],[18.18,1.17],[22.25,1.35],[24.49,1.17],[25.57,1.1],[25.3,1.35],[24.96,-5.76],[12.88,-5.19],[6.6,-4.77],[13.8,-3.94],[0.7,-4.45],[0.62,-3.67],[0.35,-3.38],[0.21,-3.7],[0.25,-2.64],[0.35,-2.08],[0.9,-2.8],[0.96,-2.44],[1.17,-2.08],[1.06,-1.76],[0.92,-2.37],[2.08,-2.77],[2.14,-2.09],[2.49,-2.0],[2.65,-1.99],[3.1,-3.31],[3.65,-3.57],[3.41,-1.82],[3.92,-1.72],[4.89,-2.62],[5.61,-2.41],[5.99,-2.12],[5.14,-1.8],[6.87,-3.16],[7.18,-3.27],[7.24,-2.15],[7.83,-1.9],[8.3,-1.8],[8.8,-2.32],[9.11,-2.32],[8.6,-1.76],[9.31,-1.8],[9.72,-2.0],[10.07,-1.8],[10.58,-2.35],[11.21,-2.39],[11.45,-2.0],[11.15,-1.76],[12.62,-2.01],[12.98,-1.67],[14.2,-2.53],[14.61,-2.41],[14.37,-1.7],[14.31,-1.4],[15.49,-1.82],[15.9,-1.55],[18.28,-2.8],[18.52,-2.35],[18.69,-2.06],[18.28,-1.53],[19.4,-1.9],[20.21,-2.3],[20.78,-2.3],[21.13,-2.23],[21.23,-1.82],[20.97,-1.44],[20.48,-1.35],[21.44,-0.72],[22.72,-3.34],[22.7,-3.46],[22.86,-2.17],[23.17,-1.91],[23.27,-1.44],[23.17,-1.62],[23.78,-1.94],[23.78,-2.12],[23.61,-2.3],[23.78,-2.57],[24.43,-2.06],[24.43,-2.21],[25.27,-1.76],[25.61,-1.53],[25.55,-2.19],[21.7,-1.53],[21.74,-1.34]];
const p4Red=[[0,0.38],[0.15,-0.09],[0.31,-0.63],[0.45,0.09],[0.6,0.5],[0.76,-0.29],[0.9,0.0],[1.06,-0.36],[1.23,0.09],[1.37,-0.32],[1.53,0.63],[1.68,0.0],[1.84,-0.18],[1.98,0.18],[2.14,-0.45],[2.29,0.0],[2.45,-0.14],[2.59,0.36],[2.76,-0.18],[2.9,0.18],[3.1,-0.41],[3.31,0.09],[3.51,0.41],[3.65,-0.23],[3.81,0.27],[4.02,0.45],[4.22,0.32],[4.43,0.0],[4.63,0.18],[4.83,-0.05],[5.14,0.59],[5.34,0.41],[5.55,0.09],[5.75,-0.18],[5.95,0.41],[6.16,0.32],[6.36,0.18],[6.56,0.14],[6.73,0.18],[6.87,-0.27],[7.07,0.61],[7.24,0.14],[7.38,0.36],[7.52,0.09],[7.79,0.32],[8.05,0.61],[8.26,0.14],[8.5,0.05],[8.7,0.09],[8.91,0.34],[9.11,0.0],[9.31,-0.23],[9.52,-0.09],[9.72,-0.09],[9.93,-0.05],[10.13,0.23],[10.37,0.27],[10.64,0.32],[10.84,0.09],[11.0,0.41],[11.15,0.63],[11.31,-0.09],[11.47,-0.18],[11.66,0.72],[11.8,0.27],[11.96,0.14],[12.27,0.18],[12.47,0.25],[12.68,0.0],[12.84,0.09],[12.98,-0.05],[13.29,0.09],[13.49,0.32],[13.69,0.0],[13.96,-0.36],[14.14,-0.18],[14.31,-0.2],[14.51,-0.09],[14.71,0.09],[14.92,0.41],[15.12,0.52],[15.32,0.41],[15.59,0.14],[15.83,0.07],[16.24,0.09],[16.65,0.14],[16.95,0.23],[17.26,0.54],[17.56,0.81],[17.77,0.54],[17.97,0.16],[18.28,-0.23],[18.48,-0.23],[18.79,0.0],[19.09,0.09],[19.4,-0.14],[19.6,0.27],[19.75,0.81],[19.95,0.72],[20.15,0.5],[20.36,0.72],[20.56,0.45],[20.77,0.41],[20.97,0.14],[21.17,0.09],[21.38,0.65],[21.54,0.77],[21.7,0.54],[21.9,0.9],[22.05,1.08],[22.25,0.54],[22.45,0.36],[22.62,-0.18],[22.76,-0.68],[22.92,-0.09],[23.13,0.18],[23.33,0.09],[23.53,0.18],[23.74,0.0],[23.94,-0.18],[24.08,0.81],[24.23,0.54],[24.39,-0.09],[24.59,0.0],[24.8,-0.09],[24.94,-0.59],[25.1,-0.36],[25.25,0.09],[25.41,0.27],[25.51,0.54],[25.71,0.09]];
const p4Zero=[-0.06,25.71];
const p4Box=[19.7,22.76,-2.87,3.49];

// ---------- layout (page pixels) ----------
const layouts=[
 {cv:'c1',bx:0,by:0,x0px:295,x1px:1737,yTopPx:103,yBotPx:1738,yAxisX:229,yAxisEnd:6,xAxisY:1751,xLabY:1840,yLabX:138,yTitleX:33,yTitleY:887,titleX:1075,titleY:30},
 {cv:'c2',bx:2083,by:0,x0px:2493,x1px:3916,yTopPx:205,yBotPx:1691,yAxisX:2429,yAxisEnd:7.0,xAxisY:1787,xLabY:1870,yLabX:2339,yTitleX:2225,yTitleY:888,titleX:3300,titleY:31},
 {cv:'c3',bx:0,by:1925,x0px:285,x1px:1713,yTopPx:2179,yBotPx:3526,yAxisX:220,yAxisEnd:6,xAxisY:3707,xLabY:3797,yLabX:131,yTitleX:33,yTitleY:2800,titleX:1075,titleY:2285},
 {cv:'c4',bx:2083,by:1925,x0px:2462,x1px:4039,yTopPx:2240,yBotPx:3724,yAxisX:2401,yAxisEnd:6,xAxisY:3746,xLabY:3826,yLabX:2317,yTitleX:2222,yTitleY:2800,titleX:3291,titleY:2284}
];
const panelData=[
 {bands:[p1Band,p1Band2,p1Band3,p1Band4],out:p1Out,red:p1Red,zero:p1Zero,box:null,xt:p1XTicks,yt:p1YTicks},
 {bands:[p2Band,p2Band2,p2Band3,p2Band4],out:p2Out,red:p2Red,zero:p2Zero,box:p2Box,xt:p2XTicks,yt:p2YTicks},
 {bands:[p3Band,p3Band2,p3Band3,p3Band4],out:p3Out,red:p3Red,zero:p3Zero,box:p3Box,xt:p3XTicks,yt:p3YTicks},
 {bands:[p4Band,p4Band2,p4Band3,p4Band4],out:p4Out,red:p4Red,zero:p4Zero,box:p4Box,xt:p4XTicks,yt:p4YTicks}
];
const PW=2083, PH=1925;
const MINUS='\u2212';
function fmt(v){return v<0?MINUS+Math.abs(v):String(v);}

const rAxes={
 id:'rAxes',
 afterDraw(chart){
  const o=chart.options.plugins.rAxes; const L=o.L, D=o.D;
  const c=chart.ctx, xs=chart.scales.x, ys=chart.scales.y;
  const ox=L.bx, oy=L.by;
  c.save();
  c.strokeStyle='#000'; c.fillStyle='#000'; c.lineCap='round'; c.lineJoin='round'; c.lineWidth=16;
  const ax=L.yAxisX-ox;
  c.beginPath(); c.moveTo(ax,ys.getPixelForValue(D.yt[0])); c.lineTo(ax,ys.getPixelForValue(L.yAxisEnd)); c.stroke();
  D.yt.forEach(v=>{const py=ys.getPixelForValue(v); c.beginPath(); c.moveTo(ax,py); c.lineTo(ax-37,py); c.stroke();});
  const ay=L.xAxisY-oy;
  c.beginPath(); c.moveTo(xs.getPixelForValue(D.xt[0]),ay); c.lineTo(xs.getPixelForValue(D.xt[D.xt.length-1]),ay); c.stroke();
  D.xt.forEach(v=>{const px=xs.getPixelForValue(v); c.beginPath(); c.moveTo(px,ay); c.lineTo(px,ay+37); c.stroke();});
  c.font='49px "Liberation Sans", Arial, sans-serif'; c.textAlign='center'; c.textBaseline='middle';
  D.xt.forEach(v=>{c.fillText(String(v),xs.getPixelForValue(v),L.xLabY-oy);});
  D.yt.forEach(v=>{const py=ys.getPixelForValue(v); c.save(); c.translate(L.yLabX-ox,py); c.rotate(-Math.PI/2); c.fillText(fmt(v),0,0); c.restore();});
  c.save(); c.font='61px "Liberation Sans", Arial, sans-serif'; c.translate(L.yTitleX-ox,L.yTitleY-oy); c.rotate(-Math.PI/2); c.fillText(yTitle,0,0); c.restore();
  c.font='bold 58px "Liberation Sans", Arial, sans-serif'; c.fillText(o.title,L.titleX-ox,L.titleY-oy);
  c.restore();
 }
};

layouts.forEach((L,i)=>{
 const D=panelData[i];
 const pts=[];
 D.bands.forEach(b=>b.forEach(r=>{for(let k=1;k<r.length;k++)pts.push({x:r[0],y:r[k]});}));
 D.out.forEach(p=>pts.push({x:p[0],y:p[1]}));
 const datasets=[
  {label:'smooth',data:D.red.map(p=>({x:p[0],y:p[1]})),showLine:true,borderColor:'#E31B2D',borderWidth:13,pointRadius:0,borderJoinStyle:'round',borderCapStyle:'round',tension:0.3,clip:false,order:2},
  {label:'zero',data:[{x:D.zero[0],y:0},{x:D.zero[1],y:0}],showLine:true,borderColor:'#454545',borderWidth:5,pointRadius:0,clip:false,order:3},
  {label:'log2FC',data:pts,backgroundColor:'#BEB9B9',borderWidth:0,pointRadius:10.5,clip:false,order:4}
 ];
 if(D.box){const b=D.box; datasets.push({label:'region',data:[{x:b[0],y:b[2]},{x:b[0],y:b[3]},{x:b[1],y:b[3]},{x:b[1],y:b[2]},{x:b[0],y:b[2]}],showLine:true,borderColor:'#000',borderWidth:8,borderDash:[36,20],pointRadius:0,clip:false,order:1,tension:0});}
 const v0=D.xt[0], v1=D.xt[D.xt.length-1];
 const kx=(v1-v0)/(L.x1px-L.x0px);
 const xmin=v0+(L.bx-L.x0px)*kx, xmax=v0+(L.bx+PW-L.x0px)*kx;
 const vb=D.yt[0], vt=D.yt[D.yt.length-1];
 const ky=(vt-vb)/(L.yBotPx-L.yTopPx);
 const ymax=vt+(L.yTopPx-L.by)*ky, ymin=vb-(L.by+PH-L.yBotPx)*ky;
 new Chart(document.getElementById(L.cv),{
  type:'scatter',
  data:{datasets},
  options:{
   responsive:true,maintainAspectRatio:false,devicePixelRatio:1,animation:false,events:[],
   layout:{padding:0},
   scales:{
    x:{type:'linear',min:xmin,max:xmax,display:false},
    y:{type:'linear',min:ymin,max:ymax,display:false}
   },
   plugins:{legend:{display:false},tooltip:{enabled:false},title:{display:false},rAxes:{L,D,title:titles[i]}}
  },
  plugins:[rAxes]
 });
});
</script></body></html>
